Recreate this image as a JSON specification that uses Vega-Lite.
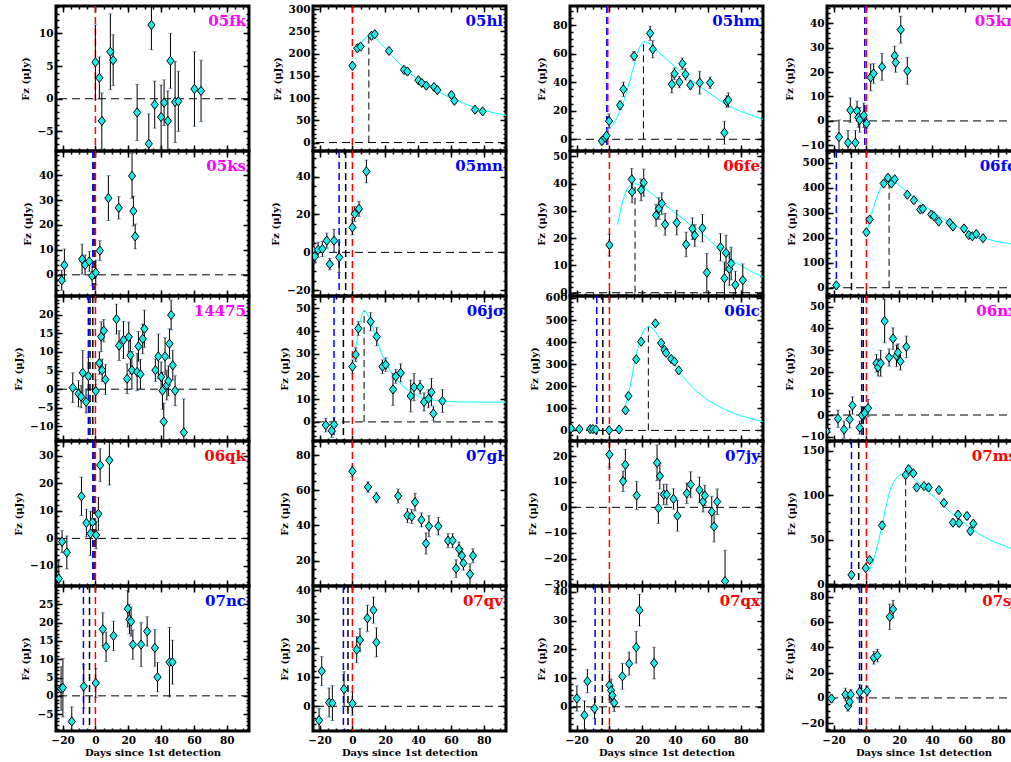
{
"$schema":"https://vega.github.io/schema/vega-lite/v6.json",
"background":"white",
"padding":{"left":12,"top":2,"right":0,"bottom":0},
"autosize":{"type":"pad"},
"columns":4,
"spacing":{"row":0,"column":64},
"bounds":"flush",
"datasets":{
"zero":[{"y":0}],
"vl":[
{"p":"05fk","x":0,"c":"#ff0000"},
{"p":"05hl","x":0,"c":"#ff0000"},
{"p":"05hm","x":-1.6,"c":"#0000ff"},{"p":"05hm","x":-1.0,"c":"#ff0000"},
{"p":"05kn","x":-1,"c":"#0000ff"},{"p":"05kn","x":0,"c":"#ff0000"},
{"p":"05ks","x":-1.6,"c":"#0000ff"},{"p":"05ks","x":-0.8,"c":"#000000"},{"p":"05ks","x":0,"c":"#ff0000"},
{"p":"05mn","x":-8.1,"c":"#0000ff"},{"p":"05mn","x":-4.1,"c":"#000000"},{"p":"05mn","x":0,"c":"#ff0000"},
{"p":"06fe","x":0,"c":"#ff0000"},
{"p":"06fo","x":-18.3,"c":"#0000ff"},{"p":"06fo","x":-9.1,"c":"#000000"},{"p":"06fo","x":0,"c":"#ff0000"},
{"p":"14475","x":-4.3,"c":"#0000ff"},{"p":"14475","x":-3.3,"c":"#000000"},{"p":"14475","x":-1.6,"c":"#000000"},{"p":"14475","x":0,"c":"#ff0000"},
{"p":"06jo","x":-11.2,"c":"#0000ff"},{"p":"06jo","x":-5.5,"c":"#000000"},{"p":"06jo","x":0,"c":"#ff0000"},
{"p":"06lc","x":-7.7,"c":"#0000ff"},{"p":"06lc","x":-4.0,"c":"#000000"},{"p":"06lc","x":0,"c":"#ff0000"},
{"p":"06nx","x":-2.9,"c":"#0000ff"},{"p":"06nx","x":-1.9,"c":"#000000"},{"p":"06nx","x":0,"c":"#ff0000"},
{"p":"06qk","x":-1.6,"c":"#0000ff"},{"p":"06qk","x":-0.8,"c":"#000000"},{"p":"06qk","x":0,"c":"#ff0000"},
{"p":"07gl","x":0,"c":"#ff0000"},
{"p":"07jy","x":0,"c":"#ff0000"},
{"p":"07ms","x":-9.1,"c":"#0000ff"},{"p":"07ms","x":-4.7,"c":"#000000"},{"p":"07ms","x":0,"c":"#ff0000"},
{"p":"07nc","x":-7.3,"c":"#0000ff"},{"p":"07nc","x":-3.6,"c":"#000000"},{"p":"07nc","x":0,"c":"#ff0000"},
{"p":"07qv","x":-5.5,"c":"#0000ff"},{"p":"07qv","x":-2.7,"c":"#000000"},{"p":"07qv","x":0,"c":"#ff0000"},
{"p":"07qx","x":-8.7,"c":"#0000ff"},{"p":"07qx","x":-4.3,"c":"#000000"},{"p":"07qx","x":0,"c":"#ff0000"},
{"p":"07sj","x":-4.2,"c":"#0000ff"},{"p":"07sj","x":-3.0,"c":"#000000"},{"p":"07sj","x":0,"c":"#ff0000"}
],
"pk":[
{"p":"05hl","x":10,"y0":0,"y1":240},
{"p":"05hm","x":20.7,"y0":0,"y1":68.5},
{"p":"06fe","x":15.6,"y0":0,"y1":39.8},
{"p":"06fo","x":13.8,"y0":0,"y1":430},
{"p":"06jo","x":7.1,"y0":0,"y1":49},
{"p":"06lc","x":23.7,"y0":0,"y1":472},
{"p":"07ms","x":23.9,"y0":0,"y1":124.5}
],
"fit":[
{"p":"05hl","x":3,"y":208},{"p":"05hl","x":5,"y":222},{"p":"05hl","x":7,"y":232},{"p":"05hl","x":9,"y":238},{"p":"05hl","x":11,"y":240},{"p":"05hl","x":13,"y":238},{"p":"05hl","x":16,"y":228},{"p":"05hl","x":20,"y":212},{"p":"05hl","x":25,"y":192},{"p":"05hl","x":30,"y":172},{"p":"05hl","x":35,"y":156},{"p":"05hl","x":40,"y":141},{"p":"05hl","x":45,"y":129},{"p":"05hl","x":50,"y":118},{"p":"05hl","x":55,"y":109},{"p":"05hl","x":60,"y":100},{"p":"05hl","x":65,"y":92},{"p":"05hl","x":70,"y":85},{"p":"05hl","x":75,"y":78},{"p":"05hl","x":80,"y":73},{"p":"05hl","x":85,"y":68},{"p":"05hl","x":93.5,"y":61},
{"p":"05hm","x":-1.5,"y":6},{"p":"05hm","x":2,"y":10},{"p":"05hm","x":5,"y":16},{"p":"05hm","x":8,"y":24},{"p":"05hm","x":11,"y":35},{"p":"05hm","x":14,"y":48},{"p":"05hm","x":17,"y":60},{"p":"05hm","x":19,"y":66},{"p":"05hm","x":21,"y":68.5},{"p":"05hm","x":23,"y":68},{"p":"05hm","x":26,"y":65.5},{"p":"05hm","x":30,"y":61},{"p":"05hm","x":35,"y":56},{"p":"05hm","x":40,"y":50.5},{"p":"05hm","x":45,"y":45.5},{"p":"05hm","x":50,"y":41},{"p":"05hm","x":55,"y":37},{"p":"05hm","x":60,"y":33},{"p":"05hm","x":65,"y":29},{"p":"05hm","x":70,"y":25},{"p":"05hm","x":75,"y":22},{"p":"05hm","x":80,"y":19.5},{"p":"05hm","x":85,"y":17.5},{"p":"05hm","x":93.5,"y":14},
{"p":"06fe","x":5,"y":25},{"p":"06fe","x":7,"y":31},{"p":"06fe","x":9,"y":35.5},{"p":"06fe","x":11,"y":38.3},{"p":"06fe","x":13,"y":39.6},{"p":"06fe","x":15.5,"y":40},{"p":"06fe","x":18,"y":39.6},{"p":"06fe","x":22,"y":38.3},{"p":"06fe","x":26,"y":36.3},{"p":"06fe","x":32,"y":33.2},{"p":"06fe","x":39,"y":29.8},{"p":"06fe","x":46,"y":26.6},{"p":"06fe","x":52,"y":23.5},{"p":"06fe","x":59,"y":20.4},{"p":"06fe","x":64,"y":17.6},{"p":"06fe","x":68,"y":15.4},{"p":"06fe","x":73,"y":13},{"p":"06fe","x":78,"y":10.7},{"p":"06fe","x":85,"y":8.2},{"p":"06fe","x":93.5,"y":5.8},
{"p":"06fo","x":1,"y":240},{"p":"06fo","x":3,"y":290},{"p":"06fo","x":5,"y":335},{"p":"06fo","x":7,"y":375},{"p":"06fo","x":9,"y":405},{"p":"06fo","x":11,"y":422},{"p":"06fo","x":13.8,"y":430},{"p":"06fo","x":17,"y":424},{"p":"06fo","x":20,"y":408},{"p":"06fo","x":25,"y":382},{"p":"06fo","x":30,"y":355},{"p":"06fo","x":35,"y":330},{"p":"06fo","x":40,"y":305},{"p":"06fo","x":45,"y":283},{"p":"06fo","x":50,"y":262},{"p":"06fo","x":55,"y":245},{"p":"06fo","x":60,"y":229},{"p":"06fo","x":65,"y":214},{"p":"06fo","x":70,"y":202},{"p":"06fo","x":75,"y":192},{"p":"06fo","x":80,"y":184},{"p":"06fo","x":87,"y":177},{"p":"06fo","x":93.5,"y":170},
{"p":"06jo","x":0.5,"y":27},{"p":"06jo","x":2,"y":33},{"p":"06jo","x":3.5,"y":39},{"p":"06jo","x":5,"y":45},{"p":"06jo","x":6,"y":48},{"p":"06jo","x":7.1,"y":49},{"p":"06jo","x":8.5,"y":48.3},{"p":"06jo","x":10,"y":46},{"p":"06jo","x":12,"y":42.5},{"p":"06jo","x":14,"y":38},{"p":"06jo","x":16,"y":33.5},{"p":"06jo","x":18,"y":29.8},{"p":"06jo","x":20,"y":26.5},{"p":"06jo","x":23,"y":22.5},{"p":"06jo","x":26,"y":19.5},{"p":"06jo","x":29,"y":17},{"p":"06jo","x":32,"y":15},{"p":"06jo","x":35,"y":13.3},{"p":"06jo","x":38,"y":12},{"p":"06jo","x":42,"y":10.8},{"p":"06jo","x":46,"y":10},{"p":"06jo","x":50,"y":9.5},{"p":"06jo","x":55,"y":9.1},{"p":"06jo","x":65,"y":8.8},{"p":"06jo","x":80,"y":8.7},{"p":"06jo","x":93.5,"y":8.7},
{"p":"06lc","x":9,"y":95},{"p":"06lc","x":11,"y":145},{"p":"06lc","x":13,"y":215},{"p":"06lc","x":15,"y":295},{"p":"06lc","x":17,"y":365},{"p":"06lc","x":19,"y":420},{"p":"06lc","x":21,"y":455},{"p":"06lc","x":23.7,"y":472},{"p":"06lc","x":26,"y":465},{"p":"06lc","x":28,"y":448},{"p":"06lc","x":31,"y":410},{"p":"06lc","x":34,"y":365},{"p":"06lc","x":37,"y":325},{"p":"06lc","x":40,"y":290},{"p":"06lc","x":44,"y":250},{"p":"06lc","x":48,"y":215},{"p":"06lc","x":52,"y":185},{"p":"06lc","x":56,"y":160},{"p":"06lc","x":60,"y":138},{"p":"06lc","x":65,"y":115},{"p":"06lc","x":70,"y":96},{"p":"06lc","x":75,"y":80},{"p":"06lc","x":80,"y":67},{"p":"06lc","x":85,"y":56},{"p":"06lc","x":93.5,"y":40},
{"p":"07ms","x":1.5,"y":14},{"p":"07ms","x":4,"y":25},{"p":"07ms","x":6,"y":38},{"p":"07ms","x":8,"y":53},{"p":"07ms","x":10,"y":70},{"p":"07ms","x":12,"y":88},{"p":"07ms","x":14,"y":103},{"p":"07ms","x":16,"y":113},{"p":"07ms","x":18,"y":119},{"p":"07ms","x":20,"y":122.5},{"p":"07ms","x":22,"y":124},{"p":"07ms","x":24,"y":124.5},{"p":"07ms","x":27,"y":122},{"p":"07ms","x":30,"y":117},{"p":"07ms","x":34,"y":110},{"p":"07ms","x":38,"y":103},{"p":"07ms","x":42,"y":97},{"p":"07ms","x":46,"y":90},{"p":"07ms","x":50,"y":83},{"p":"07ms","x":55,"y":75},{"p":"07ms","x":60,"y":68},{"p":"07ms","x":65,"y":61},{"p":"07ms","x":70,"y":55},{"p":"07ms","x":75,"y":50},{"p":"07ms","x":80,"y":46},{"p":"07ms","x":87,"y":41},{"p":"07ms","x":93.5,"y":37}
],
"pts":[
{"p":"05fk","x":0,"y":5.6,"e":5.7},{"p":"05fk","x":2.4,"y":3.2,"e":3.2},{"p":"05fk","x":3.9,"y":-3.4,"e":4.3},{"p":"05fk","x":9.1,"y":7.2,"e":5.8},{"p":"05fk","x":10.8,"y":5.9,"e":3.9},{"p":"05fk","x":25.4,"y":-2.1,"e":4.3},{"p":"05fk","x":32.5,"y":-6.9,"e":4.6},{"p":"05fk","x":34.1,"y":11.3,"e":3.8},{"p":"05fk","x":36.1,"y":-0.9,"e":3.6},{"p":"05fk","x":40,"y":-2.8,"e":4.9},{"p":"05fk","x":41.8,"y":-0.6,"e":3.5},{"p":"05fk","x":44.1,"y":-3.4,"e":4.6},{"p":"05fk","x":45.7,"y":5.8,"e":4.2},{"p":"05fk","x":48.5,"y":-0.5,"e":6.2},{"p":"05fk","x":50.5,"y":-0.4,"e":4.6},{"p":"05fk","x":60.3,"y":1.5,"e":5.7},{"p":"05fk","x":64.3,"y":1.2,"e":4.7},
{"p":"05hl","x":0,"y":172.5,"e":6},{"p":"05hl","x":3,"y":212,"e":7},{"p":"05hl","x":5,"y":216,"e":6},{"p":"05hl","x":11.6,"y":240,"e":7},{"p":"05hl","x":13.6,"y":243.7,"e":6},{"p":"05hl","x":22.3,"y":206,"e":6},{"p":"05hl","x":31.4,"y":163.5,"e":6},{"p":"05hl","x":33.5,"y":159.7,"e":7},{"p":"05hl","x":40.2,"y":140,"e":5},{"p":"05hl","x":42.2,"y":134,"e":5},{"p":"05hl","x":45,"y":128,"e":5},{"p":"05hl","x":49.7,"y":125,"e":5},{"p":"05hl","x":51.7,"y":118,"e":6},{"p":"05hl","x":60.3,"y":107,"e":5},{"p":"05hl","x":62.1,"y":94,"e":5},{"p":"05hl","x":74.6,"y":74,"e":5},{"p":"05hl","x":79.3,"y":70,"e":4},
{"p":"05hm","x":-4.6,"y":-1.2,"e":2.5},{"p":"05hm","x":-2.6,"y":1.1,"e":2},{"p":"05hm","x":-1.8,"y":2.5,"e":2},{"p":"05hm","x":-0.2,"y":12.8,"e":5},{"p":"05hm","x":6.5,"y":23.8,"e":3},{"p":"05hm","x":8.5,"y":35,"e":5},{"p":"05hm","x":15,"y":58.3,"e":3},{"p":"05hm","x":24.8,"y":74.2,"e":5},{"p":"05hm","x":26.4,"y":63,"e":6},{"p":"05hm","x":38,"y":38.5,"e":6},{"p":"05hm","x":39.6,"y":45.9,"e":4},{"p":"05hm","x":42.6,"y":40.1,"e":4},{"p":"05hm","x":44.4,"y":52.9,"e":4},{"p":"05hm","x":46.3,"y":45.5,"e":4},{"p":"05hm","x":49.3,"y":38,"e":3},{"p":"05hm","x":55,"y":39.6,"e":8},{"p":"05hm","x":61.3,"y":39.6,"e":4},{"p":"05hm","x":71.4,"y":26.5,"e":4},{"p":"05hm","x":72.4,"y":27.5,"e":5},{"p":"05hm","x":70,"y":4.6,"e":8},
{"p":"05kn","x":-16.7,"y":-6.6,"e":7},{"p":"05kn","x":-11.2,"y":-8.9,"e":5},{"p":"05kn","x":-9.8,"y":4.4,"e":5},{"p":"05kn","x":-6.7,"y":-8.9,"e":5},{"p":"05kn","x":-5.7,"y":4.1,"e":4},{"p":"05kn","x":-4.9,"y":1.4,"e":4},{"p":"05kn","x":-4.1,"y":0.4,"e":5},{"p":"05kn","x":-1.6,"y":2.3,"e":5},{"p":"05kn","x":0,"y":-1.1,"e":2},{"p":"05kn","x":2.6,"y":17.8,"e":5.5},{"p":"05kn","x":4.4,"y":19.4,"e":4},{"p":"05kn","x":9.5,"y":22.1,"e":5.5},{"p":"05kn","x":17.2,"y":26.6,"e":4},{"p":"05kn","x":17.8,"y":23.9,"e":4},{"p":"05kn","x":20.9,"y":37.3,"e":5.5},{"p":"05kn","x":24.9,"y":20.5,"e":5.5},
{"p":"05ks","x":-20.5,"y":-2.2,"e":4},{"p":"05ks","x":-18.9,"y":3.9,"e":6.5},{"p":"05ks","x":-8.1,"y":6.3,"e":6},{"p":"05ks","x":-6.3,"y":4,"e":4},{"p":"05ks","x":-3.7,"y":5.4,"e":4},{"p":"05ks","x":-2,"y":-0.4,"e":4},{"p":"05ks","x":0.2,"y":0.9,"e":5},{"p":"05ks","x":2.7,"y":9.7,"e":4},{"p":"05ks","x":7.9,"y":30.8,"e":9},{"p":"05ks","x":14.2,"y":26.9,"e":4.5},{"p":"05ks","x":22.3,"y":39.7,"e":9},{"p":"05ks","x":23.1,"y":25.6,"e":6},{"p":"05ks","x":24.2,"y":15.4,"e":5},
{"p":"05mn","x":-24.2,"y":1.3,"e":4},{"p":"05mn","x":-22.9,"y":-2.1,"e":3},{"p":"05mn","x":-20.9,"y":1.4,"e":4},{"p":"05mn","x":-18.3,"y":1.8,"e":4},{"p":"05mn","x":-15.6,"y":6.2,"e":4},{"p":"05mn","x":-13.8,"y":-6.2,"e":3},{"p":"05mn","x":-11.2,"y":6.2,"e":6},{"p":"05mn","x":-8.1,"y":-2.6,"e":8},{"p":"05mn","x":0,"y":13.2,"e":4},{"p":"05mn","x":1.4,"y":20.3,"e":4},{"p":"05mn","x":4,"y":23,"e":4},{"p":"05mn","x":8.5,"y":42.7,"e":6},
{"p":"06fe","x":0,"y":17.5,"e":4},{"p":"06fe","x":13.6,"y":41.6,"e":4},{"p":"06fe","x":13.8,"y":37,"e":4},{"p":"06fe","x":19.3,"y":37.7,"e":4},{"p":"06fe","x":20.9,"y":40.4,"e":5},{"p":"06fe","x":28.4,"y":28.4,"e":4},{"p":"06fe","x":30.1,"y":30.9,"e":4},{"p":"06fe","x":31.9,"y":32.7,"e":4},{"p":"06fe","x":33.9,"y":25.1,"e":4},{"p":"06fe","x":41,"y":25.7,"e":4.5},{"p":"06fe","x":46.7,"y":17.7,"e":4.5},{"p":"06fe","x":50.5,"y":23.5,"e":4},{"p":"06fe","x":52,"y":21,"e":4},{"p":"06fe","x":56.6,"y":23.7,"e":5},{"p":"06fe","x":59.3,"y":7.4,"e":7},{"p":"06fe","x":67.6,"y":16.7,"e":5},{"p":"06fe","x":70,"y":5.3,"e":6},{"p":"06fe","x":71,"y":14.6,"e":6.5},{"p":"06fe","x":73,"y":8.7,"e":6},{"p":"06fe","x":74.1,"y":10.7,"e":6},{"p":"06fe","x":76.7,"y":2.9,"e":5},{"p":"06fe","x":81.2,"y":4.6,"e":6},
{"p":"06fo","x":-18.3,"y":9.7,"e":10},{"p":"06fo","x":0,"y":222,"e":12},{"p":"06fo","x":2,"y":273,"e":12},{"p":"06fo","x":10.5,"y":417,"e":10},{"p":"06fo","x":13.1,"y":440,"e":10},{"p":"06fo","x":15.2,"y":417,"e":10},{"p":"06fo","x":17.2,"y":434,"e":10},{"p":"06fo","x":24.9,"y":372,"e":10},{"p":"06fo","x":28.9,"y":350,"e":10},{"p":"06fo","x":32.8,"y":313,"e":10},{"p":"06fo","x":34.4,"y":316,"e":10},{"p":"06fo","x":39.5,"y":293,"e":10},{"p":"06fo","x":41.1,"y":286,"e":10},{"p":"06fo","x":44,"y":265,"e":10},{"p":"06fo","x":50.7,"y":260,"e":10},{"p":"06fo","x":52.7,"y":245,"e":10},{"p":"06fo","x":59.4,"y":237,"e":10},{"p":"06fo","x":62.3,"y":211,"e":10},{"p":"06fo","x":64.5,"y":206,"e":10},{"p":"06fo","x":66.9,"y":215,"e":10},{"p":"06fo","x":71,"y":198,"e":10},
{"p":"14475","x":-13.8,"y":0.4,"e":4},{"p":"14475","x":-10.3,"y":-1.2,"e":3.5},{"p":"14475","x":-8.7,"y":-2,"e":3},{"p":"14475","x":-7.7,"y":4.4,"e":6},{"p":"14475","x":-5.7,"y":-3.4,"e":3},{"p":"14475","x":-4.3,"y":3.5,"e":5},{"p":"14475","x":0.2,"y":-0.5,"e":3},{"p":"14475","x":2.4,"y":7,"e":3},{"p":"14475","x":3.5,"y":14.1,"e":4},{"p":"14475","x":4.1,"y":5.1,"e":3},{"p":"14475","x":5.1,"y":15.7,"e":3},{"p":"14475","x":6.1,"y":2.6,"e":4},{"p":"14475","x":12.8,"y":18.8,"e":4},{"p":"14475","x":14.4,"y":11.7,"e":4},{"p":"14475","x":17.1,"y":13.2,"e":5},{"p":"14475","x":19.3,"y":2.8,"e":4},{"p":"14475","x":20.3,"y":14,"e":4},{"p":"14475","x":21.3,"y":9.1,"e":5},{"p":"14475","x":22.2,"y":5.1,"e":5},{"p":"14475","x":25.4,"y":4.6,"e":5},{"p":"14475","x":26.2,"y":11.5,"e":4},{"p":"14475","x":27.4,"y":4,"e":4},{"p":"14475","x":28.8,"y":13.5,"e":4},{"p":"14475","x":29.8,"y":16.2,"e":5},{"p":"14475","x":36.5,"y":5.1,"e":3},{"p":"14475","x":38.3,"y":8.8,"e":6},{"p":"14475","x":40,"y":3.3,"e":4},{"p":"14475","x":40.8,"y":-0.4,"e":5},{"p":"14475","x":41.6,"y":-8.7,"e":5},{"p":"14475","x":42.4,"y":8.8,"e":5},{"p":"14475","x":43.5,"y":1.1,"e":4},{"p":"14475","x":44.4,"y":2.2,"e":4},{"p":"14475","x":45.1,"y":12.2,"e":4},{"p":"14475","x":46.1,"y":19.9,"e":4},{"p":"14475","x":47.1,"y":6.4,"e":4},{"p":"14475","x":48.5,"y":-0.4,"e":4},{"p":"14475","x":53.8,"y":-11.6,"e":9},
{"p":"06jo","x":-16.2,"y":-1.4,"e":3},{"p":"06jo","x":-12.6,"y":-3.9,"e":3},{"p":"06jo","x":-11.2,"y":-1.2,"e":3},{"p":"06jo","x":0,"y":24.3,"e":3},{"p":"06jo","x":2,"y":29.6,"e":3},{"p":"06jo","x":3.6,"y":41.1,"e":3},{"p":"06jo","x":11.1,"y":44.1,"e":4},{"p":"06jo","x":14.8,"y":37.5,"e":4},{"p":"06jo","x":18.3,"y":24.3,"e":3},{"p":"06jo","x":20.3,"y":25.2,"e":3},{"p":"06jo","x":24.7,"y":14.3,"e":7},{"p":"06jo","x":26.4,"y":20,"e":3},{"p":"06jo","x":29.4,"y":21.6,"e":4},{"p":"06jo","x":35.5,"y":11.4,"e":7},{"p":"06jo","x":37.5,"y":15.3,"e":6},{"p":"06jo","x":41.2,"y":15.3,"e":3},{"p":"06jo","x":43.6,"y":8.8,"e":4},{"p":"06jo","x":46.3,"y":10.2,"e":4},{"p":"06jo","x":48.1,"y":13.1,"e":6},{"p":"06jo","x":49.3,"y":3.7,"e":3},{"p":"06jo","x":54.8,"y":9.2,"e":5},
{"p":"06lc","x":-23.3,"y":9,"e":8},{"p":"06lc","x":-18.3,"y":6,"e":8},{"p":"06lc","x":-11.7,"y":6,"e":8},{"p":"06lc","x":-10.1,"y":6,"e":8},{"p":"06lc","x":-8.3,"y":4,"e":8},{"p":"06lc","x":-0.2,"y":1,"e":8},{"p":"06lc","x":5.9,"y":4,"e":8},{"p":"06lc","x":9.8,"y":91,"e":10},{"p":"06lc","x":11.6,"y":156,"e":10},{"p":"06lc","x":16.3,"y":322,"e":12},{"p":"06lc","x":19.3,"y":402,"e":12},{"p":"06lc","x":28,"y":485,"e":10},{"p":"06lc","x":31.5,"y":396,"e":10},{"p":"06lc","x":33.5,"y":365,"e":10},{"p":"06lc","x":34.5,"y":351,"e":10},{"p":"06lc","x":37.6,"y":324,"e":10},{"p":"06lc","x":39.6,"y":312,"e":10},{"p":"06lc","x":42.2,"y":272,"e":10},
{"p":"06nx","x":-24.3,"y":-7.5,"e":4},{"p":"06nx","x":-17.3,"y":-1.7,"e":4},{"p":"06nx","x":-13.6,"y":-6.7,"e":4},{"p":"06nx","x":-10.2,"y":-2,"e":4},{"p":"06nx","x":-8.5,"y":4.4,"e":4},{"p":"06nx","x":-4.1,"y":-5.8,"e":3},{"p":"06nx","x":-2.7,"y":-0.1,"e":4},{"p":"06nx","x":-1,"y":1,"e":3},{"p":"06nx","x":1,"y":3.2,"e":4},{"p":"06nx","x":6.1,"y":23.9,"e":4},{"p":"06nx","x":7.1,"y":22,"e":4},{"p":"06nx","x":8.7,"y":23.9,"e":6},{"p":"06nx","x":11.1,"y":43.4,"e":10},{"p":"06nx","x":13.8,"y":26.6,"e":4},{"p":"06nx","x":16.2,"y":35.3,"e":5},{"p":"06nx","x":18.3,"y":27.4,"e":5},{"p":"06nx","x":19.2,"y":28.9,"e":4},{"p":"06nx","x":20.7,"y":24.8,"e":4},{"p":"06nx","x":24.3,"y":31.5,"e":5},
{"p":"06qk","x":-22.3,"y":-14.6,"e":7},{"p":"06qk","x":-20.3,"y":-1.2,"e":4},{"p":"06qk","x":-17.4,"y":-5.1,"e":6},{"p":"06qk","x":-8.5,"y":15.3,"e":7},{"p":"06qk","x":-5.5,"y":5.6,"e":5},{"p":"06qk","x":-3,"y":1.8,"e":8},{"p":"06qk","x":-1.8,"y":5.9,"e":4},{"p":"06qk","x":0.4,"y":1.2,"e":5},{"p":"06qk","x":1.8,"y":8.9,"e":6},{"p":"06qk","x":2.9,"y":26.6,"e":6},{"p":"06qk","x":8.5,"y":28.4,"e":9},
{"p":"07gl","x":0,"y":70.8,"e":3},{"p":"07gl","x":9.5,"y":61.8,"e":3},{"p":"07gl","x":14.6,"y":55.8,"e":3},{"p":"07gl","x":27.8,"y":56.7,"e":4},{"p":"07gl","x":33.5,"y":45.6,"e":4},{"p":"07gl","x":36.1,"y":45,"e":4},{"p":"07gl","x":38.1,"y":53.2,"e":5},{"p":"07gl","x":42,"y":43.1,"e":4},{"p":"07gl","x":44.8,"y":29.7,"e":6},{"p":"07gl","x":46.6,"y":39.5,"e":6},{"p":"07gl","x":52.3,"y":39.5,"e":5},{"p":"07gl","x":58.2,"y":31.3,"e":4},{"p":"07gl","x":61,"y":31.3,"e":4},{"p":"07gl","x":63.1,"y":15.4,"e":5},{"p":"07gl","x":64.9,"y":26.5,"e":4},{"p":"07gl","x":66.7,"y":22.7,"e":4},{"p":"07gl","x":67.6,"y":18.5,"e":4},{"p":"07gl","x":71.6,"y":12.2,"e":6},{"p":"07gl","x":73.4,"y":22.7,"e":4},
{"p":"07jy","x":0,"y":20.6,"e":5},{"p":"07jy","x":8.3,"y":10.2,"e":4},{"p":"07jy","x":9.7,"y":16.6,"e":6},{"p":"07jy","x":16.6,"y":4.6,"e":5.5},{"p":"07jy","x":29,"y":17.4,"e":7},{"p":"07jy","x":29.8,"y":-0.3,"e":6},{"p":"07jy","x":30.7,"y":12.2,"e":5},{"p":"07jy","x":33.1,"y":5,"e":4},{"p":"07jy","x":34.9,"y":5,"e":4},{"p":"07jy","x":39,"y":3.3,"e":4},{"p":"07jy","x":41.4,"y":-3.3,"e":6},{"p":"07jy","x":47.1,"y":5.5,"e":4},{"p":"07jy","x":49.5,"y":8.9,"e":5},{"p":"07jy","x":54.8,"y":6.8,"e":5},{"p":"07jy","x":57,"y":2.2,"e":4},{"p":"07jy","x":58.1,"y":4.6,"e":4},{"p":"07jy","x":62.3,"y":-1.7,"e":6},{"p":"07jy","x":63.7,"y":-7.5,"e":6},{"p":"07jy","x":65.6,"y":2.2,"e":5},{"p":"07jy","x":70.4,"y":-28.8,"e":12},
{"p":"07ms","x":-9.1,"y":10.5,"e":3},{"p":"07ms","x":-0.4,"y":18.1,"e":3},{"p":"07ms","x":2,"y":27.2,"e":3},{"p":"07ms","x":9.5,"y":66.1,"e":4},{"p":"07ms","x":23.9,"y":122.8,"e":4},{"p":"07ms","x":25.7,"y":129.3,"e":4},{"p":"07ms","x":28.6,"y":124.7,"e":3},{"p":"07ms","x":30.6,"y":108.8,"e":3},{"p":"07ms","x":35.1,"y":110.3,"e":3},{"p":"07ms","x":37.9,"y":108.8,"e":4},{"p":"07ms","x":44.2,"y":105.8,"e":3},{"p":"07ms","x":47.2,"y":91.4,"e":3},{"p":"07ms","x":52.7,"y":69.2,"e":3},{"p":"07ms","x":55.8,"y":78.2,"e":4},{"p":"07ms","x":56.4,"y":68.8,"e":4},{"p":"07ms","x":61.2,"y":76.7,"e":4},{"p":"07ms","x":63.3,"y":59.7,"e":4},{"p":"07ms","x":65.1,"y":68,"e":4},
{"p":"07nc","x":-20.9,"y":2,"e":6},{"p":"07nc","x":-19.8,"y":2.2,"e":8},{"p":"07nc","x":-14.4,"y":-7,"e":4},{"p":"07nc","x":-7.1,"y":2.6,"e":6},{"p":"07nc","x":0.2,"y":3.5,"e":4},{"p":"07nc","x":4.5,"y":18.2,"e":4.5},{"p":"07nc","x":6.5,"y":13.4,"e":4},{"p":"07nc","x":11,"y":16.4,"e":4},{"p":"07nc","x":19.7,"y":23.8,"e":5},{"p":"07nc","x":20.7,"y":20.9,"e":4},{"p":"07nc","x":21.7,"y":20.3,"e":4},{"p":"07nc","x":22.8,"y":14,"e":4},{"p":"07nc","x":27.8,"y":14,"e":6},{"p":"07nc","x":31.5,"y":17.6,"e":4},{"p":"07nc","x":36.2,"y":13.1,"e":5},{"p":"07nc","x":37.8,"y":5.1,"e":4},{"p":"07nc","x":45.1,"y":9.2,"e":9.5},{"p":"07nc","x":46.9,"y":9.2,"e":6},
{"p":"07qv","x":-20.3,"y":-4.8,"e":4},{"p":"07qv","x":-18.7,"y":12.1,"e":5},{"p":"07qv","x":-14.2,"y":1.3,"e":5},{"p":"07qv","x":-12.2,"y":1.1,"e":6},{"p":"07qv","x":-5.1,"y":5.9,"e":6},{"p":"07qv","x":0,"y":0.9,"e":4},{"p":"07qv","x":2.6,"y":19.5,"e":4.5},{"p":"07qv","x":4.6,"y":22.8,"e":4},{"p":"07qv","x":9.1,"y":30.3,"e":4.5},{"p":"07qv","x":12.8,"y":33.1,"e":4.5},{"p":"07qv","x":14.6,"y":22,"e":5},
{"p":"07qx","x":-19.8,"y":2.9,"e":4.4},{"p":"07qx","x":-15.2,"y":-2.9,"e":5},{"p":"07qx","x":-13.4,"y":8.9,"e":4},{"p":"07qx","x":-9.1,"y":-0.6,"e":3.5},{"p":"07qx","x":0,"y":7.5,"e":5},{"p":"07qx","x":1,"y":5.7,"e":4},{"p":"07qx","x":1.8,"y":4,"e":3},{"p":"07qx","x":2.9,"y":1.4,"e":3},{"p":"07qx","x":7.9,"y":10.6,"e":4.5},{"p":"07qx","x":12,"y":15,"e":4},{"p":"07qx","x":16.3,"y":20.7,"e":5.5},{"p":"07qx","x":18.3,"y":33.6,"e":5.5},{"p":"07qx","x":27.2,"y":15.2,"e":5.5},
{"p":"07sj","x":-21.3,"y":-0.5,"e":3},{"p":"07sj","x":-12.8,"y":2.7,"e":5},{"p":"07sj","x":-11.2,"y":-6.5,"e":4},{"p":"07sj","x":-10.2,"y":-3.1,"e":4},{"p":"07sj","x":-9.6,"y":2.7,"e":4},{"p":"07sj","x":-4.1,"y":4.7,"e":6},{"p":"07sj","x":0.4,"y":5.5,"e":4},{"p":"07sj","x":4.5,"y":31.8,"e":5},{"p":"07sj","x":6.7,"y":33.6,"e":5},{"p":"07sj","x":14.2,"y":64.3,"e":10},{"p":"07sj","x":16.2,"y":70.3,"e":7}
]
},
"concat":[
{"width":193,"height":145,"resolve":{"axis":{"x":"independent","y":"independent"}},"layer":[
{"data":{"name":"zero"},"mark":{"type":"rule","strokeDash":[8,5],"color":"black","clip":true},"encoding":{"y":{"field":"y","type":"quantitative","axis":{"orient":"right","values":[-5,0,5,10],"title":null}}}},
{"data":{"name":"vl"},"transform":[{"filter":"datum.p=='05fk'"}],"mark":{"type":"rule","strokeDash":[7,4],"strokeWidth":1.5,"clip":true},"encoding":{"x":{"field":"x","type":"quantitative","axis":{"orient":"top","values":[-20,0,20,40,60,80],"title":null}},"color":{"field":"c","type":"nominal","scale":null}}},
{"data":{"name":"pts"},"transform":[{"filter":"datum.p=='05fk'"}],"mark":{"type":"errorbar","ticks":{"size":4},"clip":true},"encoding":{"x":{"field":"x","type":"quantitative","axis":{"orient":"bottom","values":[-20,-15,-10,-5,0,5,10,15,20,25,30,35,40,45,50,55,60,65,70,75,80,85,90],"tickSize":-3,"labels":false,"title":null}},"y":{"field":"y","type":"quantitative","axis":{"orient":"left","values":[-8,-7,-6,-5,-4,-3,-2,-1,0,1,2,3,4,5,6,7,8,9,10,11,12,13,14],"tickSize":-3,"labels":false,"title":null}},"yError":{"field":"e"}}},
{"data":{"name":"pts"},"transform":[{"filter":"datum.p=='05fk'"}],"mark":{"type":"point","shape":"M-0.78,0L0,-1L0.78,0L0,1Z","filled":true,"fill":"#1de9e9","stroke":"black","strokeWidth":1,"size":85,"opacity":1,"clip":true},"encoding":{"x":{"field":"x","type":"quantitative","scale":{"domain":[-24,93.5],"nice":false,"zero":false},"axis":{"orient":"bottom","values":[-20,0,20,40,60,80],"labels":false,"title":null}},"y":{"field":"y","type":"quantitative","scale":{"domain":[-8,14.2],"nice":false,"zero":false},"axis":{"orient":"left","values":[-5,0,5,10],"title":"Fz (μJy)"}}}},
{"data":{"values":[{"t":"05fk"}]},"mark":{"type":"text","align":"right","baseline":"alphabetic","dx":-3,"dy":20,"font":"DejaVu Serif","fontWeight":"bold","fontSize":15,"color":"#ff00ff"},"encoding":{"x":{"datum":93.5,"type":"quantitative","axis":{"orient":"top","values":[-20,-15,-10,-5,0,5,10,15,20,25,30,35,40,45,50,55,60,65,70,75,80,85,90],"tickSize":-3,"labels":false,"title":null}},"y":{"datum":14.2,"type":"quantitative","axis":{"orient":"right","values":[-8,-7,-6,-5,-4,-3,-2,-1,0,1,2,3,4,5,6,7,8,9,10,11,12,13,14],"tickSize":-3,"labels":false,"title":null}},"text":{"field":"t"}}}
]},
{"width":193,"height":145,"resolve":{"axis":{"x":"independent","y":"independent"}},"layer":[
{"data":{"name":"zero"},"mark":{"type":"rule","strokeDash":[8,5],"color":"black","clip":true},"encoding":{"y":{"field":"y","type":"quantitative","axis":{"orient":"right","values":[0,50,100,150,200,250,300],"title":null}}}},
{"data":{"name":"vl"},"transform":[{"filter":"datum.p=='05hl'"}],"mark":{"type":"rule","strokeDash":[7,4],"strokeWidth":1.5,"clip":true},"encoding":{"x":{"field":"x","type":"quantitative","axis":{"orient":"top","values":[-20,0,20,40,60,80],"title":null}},"color":{"field":"c","type":"nominal","scale":null}}},
{"data":{"name":"pk"},"transform":[{"filter":"datum.p=='05hl'"}],"mark":{"type":"rule","strokeDash":[7,4],"color":"black","clip":true},"encoding":{"x":{"field":"x","type":"quantitative","axis":null},"y":{"field":"y0","type":"quantitative","axis":null},"y2":{"field":"y1"}}},
{"data":{"name":"fit"},"transform":[{"filter":"datum.p=='05hl'"}],"mark":{"type":"line","color":"#00ffff","strokeWidth":1,"clip":true},"encoding":{"x":{"field":"x","type":"quantitative","axis":null},"y":{"field":"y","type":"quantitative","axis":null}}},
{"data":{"name":"pts"},"transform":[{"filter":"datum.p=='05hl'"}],"mark":{"type":"errorbar","ticks":{"size":4},"clip":true},"encoding":{"x":{"field":"x","type":"quantitative","axis":{"orient":"bottom","values":[-20,-15,-10,-5,0,5,10,15,20,25,30,35,40,45,50,55,60,65,70,75,80,85,90],"tickSize":-3,"labels":false,"title":null}},"y":{"field":"y","type":"quantitative","axis":{"orient":"left","values":[-10,0,10,20,30,40,50,60,70,80,90,100,110,120,130,140,150,160,170,180,190,200,210,220,230,240,250,260,270,280,290,300],"tickSize":-3,"labels":false,"title":null}},"yError":{"field":"e"}}},
{"data":{"name":"pts"},"transform":[{"filter":"datum.p=='05hl'"}],"mark":{"type":"point","shape":"M-0.78,0L0,-1L0.78,0L0,1Z","filled":true,"fill":"#1de9e9","stroke":"black","strokeWidth":1,"size":85,"opacity":1,"clip":true},"encoding":{"x":{"field":"x","type":"quantitative","scale":{"domain":[-24,93.5],"nice":false,"zero":false},"axis":{"orient":"bottom","values":[-20,0,20,40,60,80],"labels":false,"title":null}},"y":{"field":"y","type":"quantitative","scale":{"domain":[-19,307],"nice":false,"zero":false},"axis":{"orient":"left","values":[0,50,100,150,200,250,300],"title":"Fz (μJy)"}}}},
{"data":{"values":[{"t":"05hl"}]},"mark":{"type":"text","align":"right","baseline":"alphabetic","dx":-3,"dy":20,"font":"DejaVu Serif","fontWeight":"bold","fontSize":15,"color":"#0000ff"},"encoding":{"x":{"datum":93.5,"type":"quantitative","axis":{"orient":"top","values":[-20,-15,-10,-5,0,5,10,15,20,25,30,35,40,45,50,55,60,65,70,75,80,85,90],"tickSize":-3,"labels":false,"title":null}},"y":{"datum":307,"type":"quantitative","axis":{"orient":"right","values":[-10,0,10,20,30,40,50,60,70,80,90,100,110,120,130,140,150,160,170,180,190,200,210,220,230,240,250,260,270,280,290,300],"tickSize":-3,"labels":false,"title":null}},"text":{"field":"t"}}}
]},
{"width":193,"height":145,"resolve":{"axis":{"x":"independent","y":"independent"}},"layer":[
{"data":{"name":"zero"},"mark":{"type":"rule","strokeDash":[8,5],"color":"black","clip":true},"encoding":{"y":{"field":"y","type":"quantitative","axis":{"orient":"right","values":[0,20,40,60,80],"title":null}}}},
{"data":{"name":"vl"},"transform":[{"filter":"datum.p=='05hm'"}],"mark":{"type":"rule","strokeDash":[7,4],"strokeWidth":1.5,"clip":true},"encoding":{"x":{"field":"x","type":"quantitative","axis":{"orient":"top","values":[-20,0,20,40,60,80],"title":null}},"color":{"field":"c","type":"nominal","scale":null}}},
{"data":{"name":"pk"},"transform":[{"filter":"datum.p=='05hm'"}],"mark":{"type":"rule","strokeDash":[7,4],"color":"black","clip":true},"encoding":{"x":{"field":"x","type":"quantitative","axis":null},"y":{"field":"y0","type":"quantitative","axis":null},"y2":{"field":"y1"}}},
{"data":{"name":"fit"},"transform":[{"filter":"datum.p=='05hm'"}],"mark":{"type":"line","color":"#00ffff","strokeWidth":1,"clip":true},"encoding":{"x":{"field":"x","type":"quantitative","axis":null},"y":{"field":"y","type":"quantitative","axis":null}}},
{"data":{"name":"pts"},"transform":[{"filter":"datum.p=='05hm'"}],"mark":{"type":"errorbar","ticks":{"size":4},"clip":true},"encoding":{"x":{"field":"x","type":"quantitative","axis":{"orient":"bottom","values":[-20,-15,-10,-5,0,5,10,15,20,25,30,35,40,45,50,55,60,65,70,75,80,85,90],"tickSize":-3,"labels":false,"title":null}},"y":{"field":"y","type":"quantitative","axis":{"orient":"left","values":[-5,0,5,10,15,20,25,30,35,40,45,50,55,60,65,70,75,80,85,90],"tickSize":-3,"labels":false,"title":null}},"yError":{"field":"e"}}},
{"data":{"name":"pts"},"transform":[{"filter":"datum.p=='05hm'"}],"mark":{"type":"point","shape":"M-0.78,0L0,-1L0.78,0L0,1Z","filled":true,"fill":"#1de9e9","stroke":"black","strokeWidth":1,"size":85,"opacity":1,"clip":true},"encoding":{"x":{"field":"x","type":"quantitative","scale":{"domain":[-24,93.5],"nice":false,"zero":false},"axis":{"orient":"bottom","values":[-20,0,20,40,60,80],"labels":false,"title":null}},"y":{"field":"y","type":"quantitative","scale":{"domain":[-8.2,93.3],"nice":false,"zero":false},"axis":{"orient":"left","values":[0,20,40,60,80],"title":"Fz (μJy)"}}}},
{"data":{"values":[{"t":"05hm"}]},"mark":{"type":"text","align":"right","baseline":"alphabetic","dx":-3,"dy":20,"font":"DejaVu Serif","fontWeight":"bold","fontSize":15,"color":"#0000ff"},"encoding":{"x":{"datum":93.5,"type":"quantitative","axis":{"orient":"top","values":[-20,-15,-10,-5,0,5,10,15,20,25,30,35,40,45,50,55,60,65,70,75,80,85,90],"tickSize":-3,"labels":false,"title":null}},"y":{"datum":93.3,"type":"quantitative","axis":{"orient":"right","values":[-5,0,5,10,15,20,25,30,35,40,45,50,55,60,65,70,75,80,85,90],"tickSize":-3,"labels":false,"title":null}},"text":{"field":"t"}}}
]},
{"width":193,"height":145,"resolve":{"axis":{"x":"independent","y":"independent"}},"layer":[
{"data":{"name":"zero"},"mark":{"type":"rule","strokeDash":[8,5],"color":"black","clip":true},"encoding":{"y":{"field":"y","type":"quantitative","axis":{"orient":"right","values":[-10,0,10,20,30,40],"title":null}}}},
{"data":{"name":"vl"},"transform":[{"filter":"datum.p=='05kn'"}],"mark":{"type":"rule","strokeDash":[7,4],"strokeWidth":1.5,"clip":true},"encoding":{"x":{"field":"x","type":"quantitative","axis":{"orient":"top","values":[-20,0,20,40,60,80],"title":null}},"color":{"field":"c","type":"nominal","scale":null}}},
{"data":{"name":"pts"},"transform":[{"filter":"datum.p=='05kn'"}],"mark":{"type":"errorbar","ticks":{"size":4},"clip":true},"encoding":{"x":{"field":"x","type":"quantitative","axis":{"orient":"bottom","values":[-20,-15,-10,-5,0,5,10,15,20,25,30,35,40,45,50,55,60,65,70,75,80,85,90],"tickSize":-3,"labels":false,"title":null}},"y":{"field":"y","type":"quantitative","axis":{"orient":"left","values":[-12,-10,-8,-6,-4,-2,0,2,4,6,8,10,12,14,16,18,20,22,24,26,28,30,32,34,36,38,40,42,44,46],"tickSize":-3,"labels":false,"title":null}},"yError":{"field":"e"}}},
{"data":{"name":"pts"},"transform":[{"filter":"datum.p=='05kn'"}],"mark":{"type":"point","shape":"M-0.78,0L0,-1L0.78,0L0,1Z","filled":true,"fill":"#1de9e9","stroke":"black","strokeWidth":1,"size":85,"opacity":1,"clip":true},"encoding":{"x":{"field":"x","type":"quantitative","scale":{"domain":[-24,93.5],"nice":false,"zero":false},"axis":{"orient":"bottom","values":[-20,0,20,40,60,80],"labels":false,"title":null}},"y":{"field":"y","type":"quantitative","scale":{"domain":[-12.3,47],"nice":false,"zero":false},"axis":{"orient":"left","values":[-10,0,10,20,30,40],"title":"Fz (μJy)"}}}},
{"data":{"values":[{"t":"05kn"}]},"mark":{"type":"text","align":"right","baseline":"alphabetic","dx":-3,"dy":20,"font":"DejaVu Serif","fontWeight":"bold","fontSize":15,"color":"#ff00ff"},"encoding":{"x":{"datum":93.5,"type":"quantitative","axis":{"orient":"top","values":[-20,-15,-10,-5,0,5,10,15,20,25,30,35,40,45,50,55,60,65,70,75,80,85,90],"tickSize":-3,"labels":false,"title":null}},"y":{"datum":47,"type":"quantitative","axis":{"orient":"right","values":[-12,-10,-8,-6,-4,-2,0,2,4,6,8,10,12,14,16,18,20,22,24,26,28,30,32,34,36,38,40,42,44,46],"tickSize":-3,"labels":false,"title":null}},"text":{"field":"t"}}}
]},
{"width":193,"height":145,"resolve":{"axis":{"x":"independent","y":"independent"}},"layer":[
{"data":{"name":"zero"},"mark":{"type":"rule","strokeDash":[8,5],"color":"black","clip":true},"encoding":{"y":{"field":"y","type":"quantitative","axis":{"orient":"right","values":[0,10,20,30,40],"title":null}}}},
{"data":{"name":"vl"},"transform":[{"filter":"datum.p=='05ks'"}],"mark":{"type":"rule","strokeDash":[7,4],"strokeWidth":1.5,"clip":true},"encoding":{"x":{"field":"x","type":"quantitative","axis":{"orient":"top","values":[-20,0,20,40,60,80],"title":null}},"color":{"field":"c","type":"nominal","scale":null}}},
{"data":{"name":"pts"},"transform":[{"filter":"datum.p=='05ks'"}],"mark":{"type":"errorbar","ticks":{"size":4},"clip":true},"encoding":{"x":{"field":"x","type":"quantitative","axis":{"orient":"bottom","values":[-20,-15,-10,-5,0,5,10,15,20,25,30,35,40,45,50,55,60,65,70,75,80,85,90],"tickSize":-3,"labels":false,"title":null}},"y":{"field":"y","type":"quantitative","axis":{"orient":"left","values":[-8,-6,-4,-2,0,2,4,6,8,10,12,14,16,18,20,22,24,26,28,30,32,34,36,38,40,42,44,46,48],"tickSize":-3,"labels":false,"title":null}},"yError":{"field":"e"}}},
{"data":{"name":"pts"},"transform":[{"filter":"datum.p=='05ks'"}],"mark":{"type":"point","shape":"M-0.78,0L0,-1L0.78,0L0,1Z","filled":true,"fill":"#1de9e9","stroke":"black","strokeWidth":1,"size":85,"opacity":1,"clip":true},"encoding":{"x":{"field":"x","type":"quantitative","scale":{"domain":[-24,93.5],"nice":false,"zero":false},"axis":{"orient":"bottom","values":[-20,0,20,40,60,80],"labels":false,"title":null}},"y":{"field":"y","type":"quantitative","scale":{"domain":[-8.5,49.7],"nice":false,"zero":false},"axis":{"orient":"left","values":[0,10,20,30,40],"title":"Fz (μJy)"}}}},
{"data":{"values":[{"t":"05ks"}]},"mark":{"type":"text","align":"right","baseline":"alphabetic","dx":-3,"dy":20,"font":"DejaVu Serif","fontWeight":"bold","fontSize":15,"color":"#ff00ff"},"encoding":{"x":{"datum":93.5,"type":"quantitative","axis":{"orient":"top","values":[-20,-15,-10,-5,0,5,10,15,20,25,30,35,40,45,50,55,60,65,70,75,80,85,90],"tickSize":-3,"labels":false,"title":null}},"y":{"datum":49.7,"type":"quantitative","axis":{"orient":"right","values":[-8,-6,-4,-2,0,2,4,6,8,10,12,14,16,18,20,22,24,26,28,30,32,34,36,38,40,42,44,46,48],"tickSize":-3,"labels":false,"title":null}},"text":{"field":"t"}}}
]},
{"width":193,"height":145,"resolve":{"axis":{"x":"independent","y":"independent"}},"layer":[
{"data":{"name":"zero"},"mark":{"type":"rule","strokeDash":[8,5],"color":"black","clip":true},"encoding":{"y":{"field":"y","type":"quantitative","axis":{"orient":"right","values":[-20,0,20,40],"title":null}}}},
{"data":{"name":"vl"},"transform":[{"filter":"datum.p=='05mn'"}],"mark":{"type":"rule","strokeDash":[7,4],"strokeWidth":1.5,"clip":true},"encoding":{"x":{"field":"x","type":"quantitative","axis":{"orient":"top","values":[-20,0,20,40,60,80],"title":null}},"color":{"field":"c","type":"nominal","scale":null}}},
{"data":{"name":"pts"},"transform":[{"filter":"datum.p=='05mn'"}],"mark":{"type":"errorbar","ticks":{"size":4},"clip":true},"encoding":{"x":{"field":"x","type":"quantitative","axis":{"orient":"bottom","values":[-20,-15,-10,-5,0,5,10,15,20,25,30,35,40,45,50,55,60,65,70,75,80,85,90],"tickSize":-3,"labels":false,"title":null}},"y":{"field":"y","type":"quantitative","axis":{"orient":"left","values":[-20,-15,-10,-5,0,5,10,15,20,25,30,35,40,45,50],"tickSize":-3,"labels":false,"title":null}},"yError":{"field":"e"}}},
{"data":{"name":"pts"},"transform":[{"filter":"datum.p=='05mn'"}],"mark":{"type":"point","shape":"M-0.78,0L0,-1L0.78,0L0,1Z","filled":true,"fill":"#1de9e9","stroke":"black","strokeWidth":1,"size":85,"opacity":1,"clip":true},"encoding":{"x":{"field":"x","type":"quantitative","scale":{"domain":[-24,93.5],"nice":false,"zero":false},"axis":{"orient":"bottom","values":[-20,0,20,40,60,80],"labels":false,"title":null}},"y":{"field":"y","type":"quantitative","scale":{"domain":[-23,53.5],"nice":false,"zero":false},"axis":{"orient":"left","values":[-20,0,20,40],"title":"Fz (μJy)"}}}},
{"data":{"values":[{"t":"05mn"}]},"mark":{"type":"text","align":"right","baseline":"alphabetic","dx":-3,"dy":20,"font":"DejaVu Serif","fontWeight":"bold","fontSize":15,"color":"#0000ff"},"encoding":{"x":{"datum":93.5,"type":"quantitative","axis":{"orient":"top","values":[-20,-15,-10,-5,0,5,10,15,20,25,30,35,40,45,50,55,60,65,70,75,80,85,90],"tickSize":-3,"labels":false,"title":null}},"y":{"datum":53.5,"type":"quantitative","axis":{"orient":"right","values":[-20,-15,-10,-5,0,5,10,15,20,25,30,35,40,45,50],"tickSize":-3,"labels":false,"title":null}},"text":{"field":"t"}}}
]},
{"width":193,"height":145,"resolve":{"axis":{"x":"independent","y":"independent"}},"layer":[
{"data":{"name":"zero"},"mark":{"type":"rule","strokeDash":[8,5],"color":"black","clip":true},"encoding":{"y":{"field":"y","type":"quantitative","axis":{"orient":"right","values":[0,10,20,30,40,50],"title":null}}}},
{"data":{"name":"vl"},"transform":[{"filter":"datum.p=='06fe'"}],"mark":{"type":"rule","strokeDash":[7,4],"strokeWidth":1.5,"clip":true},"encoding":{"x":{"field":"x","type":"quantitative","axis":{"orient":"top","values":[-20,0,20,40,60,80],"title":null}},"color":{"field":"c","type":"nominal","scale":null}}},
{"data":{"name":"pk"},"transform":[{"filter":"datum.p=='06fe'"}],"mark":{"type":"rule","strokeDash":[7,4],"color":"black","clip":true},"encoding":{"x":{"field":"x","type":"quantitative","axis":null},"y":{"field":"y0","type":"quantitative","axis":null},"y2":{"field":"y1"}}},
{"data":{"name":"fit"},"transform":[{"filter":"datum.p=='06fe'"}],"mark":{"type":"line","color":"#00ffff","strokeWidth":1,"clip":true},"encoding":{"x":{"field":"x","type":"quantitative","axis":null},"y":{"field":"y","type":"quantitative","axis":null}}},
{"data":{"name":"pts"},"transform":[{"filter":"datum.p=='06fe'"}],"mark":{"type":"errorbar","ticks":{"size":4},"clip":true},"encoding":{"x":{"field":"x","type":"quantitative","axis":{"orient":"bottom","values":[-20,-15,-10,-5,0,5,10,15,20,25,30,35,40,45,50,55,60,65,70,75,80,85,90],"tickSize":-3,"labels":false,"title":null}},"y":{"field":"y","type":"quantitative","axis":{"orient":"left","values":[0,2,4,6,8,10,12,14,16,18,20,22,24,26,28,30,32,34,36,38,40,42,44,46,48,50,52],"tickSize":-3,"labels":false,"title":null}},"yError":{"field":"e"}}},
{"data":{"name":"pts"},"transform":[{"filter":"datum.p=='06fe'"}],"mark":{"type":"point","shape":"M-0.78,0L0,-1L0.78,0L0,1Z","filled":true,"fill":"#1de9e9","stroke":"black","strokeWidth":1,"size":85,"opacity":1,"clip":true},"encoding":{"x":{"field":"x","type":"quantitative","scale":{"domain":[-24,93.5],"nice":false,"zero":false},"axis":{"orient":"bottom","values":[-20,0,20,40,60,80],"labels":false,"title":null}},"y":{"field":"y","type":"quantitative","scale":{"domain":[-1.2,52],"nice":false,"zero":false},"axis":{"orient":"left","values":[0,10,20,30,40,50],"title":"Fz (μJy)"}}}},
{"data":{"values":[{"t":"06fe"}]},"mark":{"type":"text","align":"right","baseline":"alphabetic","dx":-3,"dy":20,"font":"DejaVu Serif","fontWeight":"bold","fontSize":15,"color":"#ff0000"},"encoding":{"x":{"datum":93.5,"type":"quantitative","axis":{"orient":"top","values":[-20,-15,-10,-5,0,5,10,15,20,25,30,35,40,45,50,55,60,65,70,75,80,85,90],"tickSize":-3,"labels":false,"title":null}},"y":{"datum":52,"type":"quantitative","axis":{"orient":"right","values":[0,2,4,6,8,10,12,14,16,18,20,22,24,26,28,30,32,34,36,38,40,42,44,46,48,50,52],"tickSize":-3,"labels":false,"title":null}},"text":{"field":"t"}}}
]},
{"width":193,"height":145,"resolve":{"axis":{"x":"independent","y":"independent"}},"layer":[
{"data":{"name":"zero"},"mark":{"type":"rule","strokeDash":[8,5],"color":"black","clip":true},"encoding":{"y":{"field":"y","type":"quantitative","axis":{"orient":"right","values":[0,100,200,300,400,500],"title":null}}}},
{"data":{"name":"vl"},"transform":[{"filter":"datum.p=='06fo'"}],"mark":{"type":"rule","strokeDash":[7,4],"strokeWidth":1.5,"clip":true},"encoding":{"x":{"field":"x","type":"quantitative","axis":{"orient":"top","values":[-20,0,20,40,60,80],"title":null}},"color":{"field":"c","type":"nominal","scale":null}}},
{"data":{"name":"pk"},"transform":[{"filter":"datum.p=='06fo'"}],"mark":{"type":"rule","strokeDash":[7,4],"color":"black","clip":true},"encoding":{"x":{"field":"x","type":"quantitative","axis":null},"y":{"field":"y0","type":"quantitative","axis":null},"y2":{"field":"y1"}}},
{"data":{"name":"fit"},"transform":[{"filter":"datum.p=='06fo'"}],"mark":{"type":"line","color":"#00ffff","strokeWidth":1,"clip":true},"encoding":{"x":{"field":"x","type":"quantitative","axis":null},"y":{"field":"y","type":"quantitative","axis":null}}},
{"data":{"name":"pts"},"transform":[{"filter":"datum.p=='06fo'"}],"mark":{"type":"errorbar","ticks":{"size":4},"clip":true},"encoding":{"x":{"field":"x","type":"quantitative","axis":{"orient":"bottom","values":[-20,-15,-10,-5,0,5,10,15,20,25,30,35,40,45,50,55,60,65,70,75,80,85,90],"tickSize":-3,"labels":false,"title":null}},"y":{"field":"y","type":"quantitative","axis":{"orient":"left","values":[-20,0,20,40,60,80,100,120,140,160,180,200,220,240,260,280,300,320,340,360,380,400,420,440,460,480,500,520,540],"tickSize":-3,"labels":false,"title":null}},"yError":{"field":"e"}}},
{"data":{"name":"pts"},"transform":[{"filter":"datum.p=='06fo'"}],"mark":{"type":"point","shape":"M-0.78,0L0,-1L0.78,0L0,1Z","filled":true,"fill":"#1de9e9","stroke":"black","strokeWidth":1,"size":85,"opacity":1,"clip":true},"encoding":{"x":{"field":"x","type":"quantitative","scale":{"domain":[-24,93.5],"nice":false,"zero":false},"axis":{"orient":"bottom","values":[-20,0,20,40,60,80],"labels":false,"title":null}},"y":{"field":"y","type":"quantitative","scale":{"domain":[-33,547],"nice":false,"zero":false},"axis":{"orient":"left","values":[0,100,200,300,400,500],"title":"Fz (μJy)"}}}},
{"data":{"values":[{"t":"06fo"}]},"mark":{"type":"text","align":"right","baseline":"alphabetic","dx":-3,"dy":20,"font":"DejaVu Serif","fontWeight":"bold","fontSize":15,"color":"#0000ff"},"encoding":{"x":{"datum":93.5,"type":"quantitative","axis":{"orient":"top","values":[-20,-15,-10,-5,0,5,10,15,20,25,30,35,40,45,50,55,60,65,70,75,80,85,90],"tickSize":-3,"labels":false,"title":null}},"y":{"datum":547,"type":"quantitative","axis":{"orient":"right","values":[-20,0,20,40,60,80,100,120,140,160,180,200,220,240,260,280,300,320,340,360,380,400,420,440,460,480,500,520,540],"tickSize":-3,"labels":false,"title":null}},"text":{"field":"t"}}}
]},
{"width":193,"height":145,"resolve":{"axis":{"x":"independent","y":"independent"}},"layer":[
{"data":{"name":"zero"},"mark":{"type":"rule","strokeDash":[8,5],"color":"black","clip":true},"encoding":{"y":{"field":"y","type":"quantitative","axis":{"orient":"right","values":[-10,-5,0,5,10,15,20],"title":null}}}},
{"data":{"name":"vl"},"transform":[{"filter":"datum.p=='14475'"}],"mark":{"type":"rule","strokeDash":[7,4],"strokeWidth":1.5,"clip":true},"encoding":{"x":{"field":"x","type":"quantitative","axis":{"orient":"top","values":[-20,0,20,40,60,80],"title":null}},"color":{"field":"c","type":"nominal","scale":null}}},
{"data":{"name":"pts"},"transform":[{"filter":"datum.p=='14475'"}],"mark":{"type":"errorbar","ticks":{"size":4},"clip":true},"encoding":{"x":{"field":"x","type":"quantitative","axis":{"orient":"bottom","values":[-20,-15,-10,-5,0,5,10,15,20,25,30,35,40,45,50,55,60,65,70,75,80,85,90],"tickSize":-3,"labels":false,"title":null}},"y":{"field":"y","type":"quantitative","axis":{"orient":"left","values":[-13,-12,-11,-10,-9,-8,-7,-6,-5,-4,-3,-2,-1,0,1,2,3,4,5,6,7,8,9,10,11,12,13,14,15,16,17,18,19,20,21,22,23,24,25],"tickSize":-3,"labels":false,"title":null}},"yError":{"field":"e"}}},
{"data":{"name":"pts"},"transform":[{"filter":"datum.p=='14475'"}],"mark":{"type":"point","shape":"M-0.78,0L0,-1L0.78,0L0,1Z","filled":true,"fill":"#1de9e9","stroke":"black","strokeWidth":1,"size":85,"opacity":1,"clip":true},"encoding":{"x":{"field":"x","type":"quantitative","scale":{"domain":[-24,93.5],"nice":false,"zero":false},"axis":{"orient":"bottom","values":[-20,0,20,40,60,80],"labels":false,"title":null}},"y":{"field":"y","type":"quantitative","scale":{"domain":[-13.9,25],"nice":false,"zero":false},"axis":{"orient":"left","values":[-10,-5,0,5,10,15,20],"title":"Fz (μJy)"}}}},
{"data":{"values":[{"t":"14475"}]},"mark":{"type":"text","align":"right","baseline":"alphabetic","dx":-3,"dy":20,"font":"DejaVu Serif","fontWeight":"bold","fontSize":15,"color":"#ff00ff"},"encoding":{"x":{"datum":93.5,"type":"quantitative","axis":{"orient":"top","values":[-20,-15,-10,-5,0,5,10,15,20,25,30,35,40,45,50,55,60,65,70,75,80,85,90],"tickSize":-3,"labels":false,"title":null}},"y":{"datum":25,"type":"quantitative","axis":{"orient":"right","values":[-13,-12,-11,-10,-9,-8,-7,-6,-5,-4,-3,-2,-1,0,1,2,3,4,5,6,7,8,9,10,11,12,13,14,15,16,17,18,19,20,21,22,23,24,25],"tickSize":-3,"labels":false,"title":null}},"text":{"field":"t"}}}
]},
{"width":193,"height":145,"resolve":{"axis":{"x":"independent","y":"independent"}},"layer":[
{"data":{"name":"zero"},"mark":{"type":"rule","strokeDash":[8,5],"color":"black","clip":true},"encoding":{"y":{"field":"y","type":"quantitative","axis":{"orient":"right","values":[0,10,20,30,40,50],"title":null}}}},
{"data":{"name":"vl"},"transform":[{"filter":"datum.p=='06jo'"}],"mark":{"type":"rule","strokeDash":[7,4],"strokeWidth":1.5,"clip":true},"encoding":{"x":{"field":"x","type":"quantitative","axis":{"orient":"top","values":[-20,0,20,40,60,80],"title":null}},"color":{"field":"c","type":"nominal","scale":null}}},
{"data":{"name":"pk"},"transform":[{"filter":"datum.p=='06jo'"}],"mark":{"type":"rule","strokeDash":[7,4],"color":"black","clip":true},"encoding":{"x":{"field":"x","type":"quantitative","axis":null},"y":{"field":"y0","type":"quantitative","axis":null},"y2":{"field":"y1"}}},
{"data":{"name":"fit"},"transform":[{"filter":"datum.p=='06jo'"}],"mark":{"type":"line","color":"#00ffff","strokeWidth":1,"clip":true},"encoding":{"x":{"field":"x","type":"quantitative","axis":null},"y":{"field":"y","type":"quantitative","axis":null}}},
{"data":{"name":"pts"},"transform":[{"filter":"datum.p=='06jo'"}],"mark":{"type":"errorbar","ticks":{"size":4},"clip":true},"encoding":{"x":{"field":"x","type":"quantitative","axis":{"orient":"bottom","values":[-20,-15,-10,-5,0,5,10,15,20,25,30,35,40,45,50,55,60,65,70,75,80,85,90],"tickSize":-3,"labels":false,"title":null}},"y":{"field":"y","type":"quantitative","axis":{"orient":"left","values":[-8,-6,-4,-2,0,2,4,6,8,10,12,14,16,18,20,22,24,26,28,30,32,34,36,38,40,42,44,46,48,50,52,54],"tickSize":-3,"labels":false,"title":null}},"yError":{"field":"e"}}},
{"data":{"name":"pts"},"transform":[{"filter":"datum.p=='06jo'"}],"mark":{"type":"point","shape":"M-0.78,0L0,-1L0.78,0L0,1Z","filled":true,"fill":"#1de9e9","stroke":"black","strokeWidth":1,"size":85,"opacity":1,"clip":true},"encoding":{"x":{"field":"x","type":"quantitative","scale":{"domain":[-24,93.5],"nice":false,"zero":false},"axis":{"orient":"bottom","values":[-20,0,20,40,60,80],"labels":false,"title":null}},"y":{"field":"y","type":"quantitative","scale":{"domain":[-8.4,55.4],"nice":false,"zero":false},"axis":{"orient":"left","values":[0,10,20,30,40,50],"title":"Fz (μJy)"}}}},
{"data":{"values":[{"t":"06jo"}]},"mark":{"type":"text","align":"right","baseline":"alphabetic","dx":-3,"dy":20,"font":"DejaVu Serif","fontWeight":"bold","fontSize":15,"color":"#0000ff"},"encoding":{"x":{"datum":93.5,"type":"quantitative","axis":{"orient":"top","values":[-20,-15,-10,-5,0,5,10,15,20,25,30,35,40,45,50,55,60,65,70,75,80,85,90],"tickSize":-3,"labels":false,"title":null}},"y":{"datum":55.4,"type":"quantitative","axis":{"orient":"right","values":[-8,-6,-4,-2,0,2,4,6,8,10,12,14,16,18,20,22,24,26,28,30,32,34,36,38,40,42,44,46,48,50,52,54],"tickSize":-3,"labels":false,"title":null}},"text":{"field":"t"}}}
]},
{"width":193,"height":145,"resolve":{"axis":{"x":"independent","y":"independent"}},"layer":[
{"data":{"name":"zero"},"mark":{"type":"rule","strokeDash":[8,5],"color":"black","clip":true},"encoding":{"y":{"field":"y","type":"quantitative","axis":{"orient":"right","values":[0,100,200,300,400,500,600],"title":null}}}},
{"data":{"name":"vl"},"transform":[{"filter":"datum.p=='06lc'"}],"mark":{"type":"rule","strokeDash":[7,4],"strokeWidth":1.5,"clip":true},"encoding":{"x":{"field":"x","type":"quantitative","axis":{"orient":"top","values":[-20,0,20,40,60,80],"title":null}},"color":{"field":"c","type":"nominal","scale":null}}},
{"data":{"name":"pk"},"transform":[{"filter":"datum.p=='06lc'"}],"mark":{"type":"rule","strokeDash":[7,4],"color":"black","clip":true},"encoding":{"x":{"field":"x","type":"quantitative","axis":null},"y":{"field":"y0","type":"quantitative","axis":null},"y2":{"field":"y1"}}},
{"data":{"name":"fit"},"transform":[{"filter":"datum.p=='06lc'"}],"mark":{"type":"line","color":"#00ffff","strokeWidth":1,"clip":true},"encoding":{"x":{"field":"x","type":"quantitative","axis":null},"y":{"field":"y","type":"quantitative","axis":null}}},
{"data":{"name":"pts"},"transform":[{"filter":"datum.p=='06lc'"}],"mark":{"type":"errorbar","ticks":{"size":4},"clip":true},"encoding":{"x":{"field":"x","type":"quantitative","axis":{"orient":"bottom","values":[-20,-15,-10,-5,0,5,10,15,20,25,30,35,40,45,50,55,60,65,70,75,80,85,90],"tickSize":-3,"labels":false,"title":null}},"y":{"field":"y","type":"quantitative","axis":{"orient":"left","values":[-40,-20,0,20,40,60,80,100,120,140,160,180,200,220,240,260,280,300,320,340,360,380,400,420,440,460,480,500,520,540,560,580,600],"tickSize":-3,"labels":false,"title":null}},"yError":{"field":"e"}}},
{"data":{"name":"pts"},"transform":[{"filter":"datum.p=='06lc'"}],"mark":{"type":"point","shape":"M-0.78,0L0,-1L0.78,0L0,1Z","filled":true,"fill":"#1de9e9","stroke":"black","strokeWidth":1,"size":85,"opacity":1,"clip":true},"encoding":{"x":{"field":"x","type":"quantitative","scale":{"domain":[-24,93.5],"nice":false,"zero":false},"axis":{"orient":"bottom","values":[-20,0,20,40,60,80],"labels":false,"title":null}},"y":{"field":"y","type":"quantitative","scale":{"domain":[-48,609],"nice":false,"zero":false},"axis":{"orient":"left","values":[0,100,200,300,400,500,600],"title":"Fz (μJy)"}}}},
{"data":{"values":[{"t":"06lc"}]},"mark":{"type":"text","align":"right","baseline":"alphabetic","dx":-3,"dy":20,"font":"DejaVu Serif","fontWeight":"bold","fontSize":15,"color":"#0000ff"},"encoding":{"x":{"datum":93.5,"type":"quantitative","axis":{"orient":"top","values":[-20,-15,-10,-5,0,5,10,15,20,25,30,35,40,45,50,55,60,65,70,75,80,85,90],"tickSize":-3,"labels":false,"title":null}},"y":{"datum":609,"type":"quantitative","axis":{"orient":"right","values":[-40,-20,0,20,40,60,80,100,120,140,160,180,200,220,240,260,280,300,320,340,360,380,400,420,440,460,480,500,520,540,560,580,600],"tickSize":-3,"labels":false,"title":null}},"text":{"field":"t"}}}
]},
{"width":193,"height":145,"resolve":{"axis":{"x":"independent","y":"independent"}},"layer":[
{"data":{"name":"zero"},"mark":{"type":"rule","strokeDash":[8,5],"color":"black","clip":true},"encoding":{"y":{"field":"y","type":"quantitative","axis":{"orient":"right","values":[-10,0,10,20,30,40,50],"title":null}}}},
{"data":{"name":"vl"},"transform":[{"filter":"datum.p=='06nx'"}],"mark":{"type":"rule","strokeDash":[7,4],"strokeWidth":1.5,"clip":true},"encoding":{"x":{"field":"x","type":"quantitative","axis":{"orient":"top","values":[-20,0,20,40,60,80],"title":null}},"color":{"field":"c","type":"nominal","scale":null}}},
{"data":{"name":"pts"},"transform":[{"filter":"datum.p=='06nx'"}],"mark":{"type":"errorbar","ticks":{"size":4},"clip":true},"encoding":{"x":{"field":"x","type":"quantitative","axis":{"orient":"bottom","values":[-20,-15,-10,-5,0,5,10,15,20,25,30,35,40,45,50,55,60,65,70,75,80,85,90],"tickSize":-3,"labels":false,"title":null}},"y":{"field":"y","type":"quantitative","axis":{"orient":"left","values":[-12,-10,-8,-6,-4,-2,0,2,4,6,8,10,12,14,16,18,20,22,24,26,28,30,32,34,36,38,40,42,44,46,48,50,52,54],"tickSize":-3,"labels":false,"title":null}},"yError":{"field":"e"}}},
{"data":{"name":"pts"},"transform":[{"filter":"datum.p=='06nx'"}],"mark":{"type":"point","shape":"M-0.78,0L0,-1L0.78,0L0,1Z","filled":true,"fill":"#1de9e9","stroke":"black","strokeWidth":1,"size":85,"opacity":1,"clip":true},"encoding":{"x":{"field":"x","type":"quantitative","scale":{"domain":[-24,93.5],"nice":false,"zero":false},"axis":{"orient":"bottom","values":[-20,0,20,40,60,80],"labels":false,"title":null}},"y":{"field":"y","type":"quantitative","scale":{"domain":[-12,55],"nice":false,"zero":false},"axis":{"orient":"left","values":[-10,0,10,20,30,40,50],"title":"Fz (μJy)"}}}},
{"data":{"values":[{"t":"06nx"}]},"mark":{"type":"text","align":"right","baseline":"alphabetic","dx":-3,"dy":20,"font":"DejaVu Serif","fontWeight":"bold","fontSize":15,"color":"#ff00ff"},"encoding":{"x":{"datum":93.5,"type":"quantitative","axis":{"orient":"top","values":[-20,-15,-10,-5,0,5,10,15,20,25,30,35,40,45,50,55,60,65,70,75,80,85,90],"tickSize":-3,"labels":false,"title":null}},"y":{"datum":55,"type":"quantitative","axis":{"orient":"right","values":[-12,-10,-8,-6,-4,-2,0,2,4,6,8,10,12,14,16,18,20,22,24,26,28,30,32,34,36,38,40,42,44,46,48,50,52,54],"tickSize":-3,"labels":false,"title":null}},"text":{"field":"t"}}}
]},
{"width":193,"height":145,"resolve":{"axis":{"x":"independent","y":"independent"}},"layer":[
{"data":{"name":"zero"},"mark":{"type":"rule","strokeDash":[8,5],"color":"black","clip":true},"encoding":{"y":{"field":"y","type":"quantitative","axis":{"orient":"right","values":[-10,0,10,20,30],"title":null}}}},
{"data":{"name":"vl"},"transform":[{"filter":"datum.p=='06qk'"}],"mark":{"type":"rule","strokeDash":[7,4],"strokeWidth":1.5,"clip":true},"encoding":{"x":{"field":"x","type":"quantitative","axis":{"orient":"top","values":[-20,0,20,40,60,80],"title":null}},"color":{"field":"c","type":"nominal","scale":null}}},
{"data":{"name":"pts"},"transform":[{"filter":"datum.p=='06qk'"}],"mark":{"type":"errorbar","ticks":{"size":4},"clip":true},"encoding":{"x":{"field":"x","type":"quantitative","axis":{"orient":"bottom","values":[-20,-15,-10,-5,0,5,10,15,20,25,30,35,40,45,50,55,60,65,70,75,80,85,90],"tickSize":-3,"labels":false,"title":null}},"y":{"field":"y","type":"quantitative","axis":{"orient":"left","values":[-16,-14,-12,-10,-8,-6,-4,-2,0,2,4,6,8,10,12,14,16,18,20,22,24,26,28,30,32,34],"tickSize":-3,"labels":false,"title":null}},"yError":{"field":"e"}}},
{"data":{"name":"pts"},"transform":[{"filter":"datum.p=='06qk'"}],"mark":{"type":"point","shape":"M-0.78,0L0,-1L0.78,0L0,1Z","filled":true,"fill":"#1de9e9","stroke":"black","strokeWidth":1,"size":85,"opacity":1,"clip":true},"encoding":{"x":{"field":"x","type":"quantitative","scale":{"domain":[-24,93.5],"nice":false,"zero":false},"axis":{"orient":"bottom","values":[-20,0,20,40,60,80],"labels":false,"title":null}},"y":{"field":"y","type":"quantitative","scale":{"domain":[-17.3,35.4],"nice":false,"zero":false},"axis":{"orient":"left","values":[-10,0,10,20,30],"title":"Fz (μJy)"}}}},
{"data":{"values":[{"t":"06qk"}]},"mark":{"type":"text","align":"right","baseline":"alphabetic","dx":-3,"dy":20,"font":"DejaVu Serif","fontWeight":"bold","fontSize":15,"color":"#ff0000"},"encoding":{"x":{"datum":93.5,"type":"quantitative","axis":{"orient":"top","values":[-20,-15,-10,-5,0,5,10,15,20,25,30,35,40,45,50,55,60,65,70,75,80,85,90],"tickSize":-3,"labels":false,"title":null}},"y":{"datum":35.4,"type":"quantitative","axis":{"orient":"right","values":[-16,-14,-12,-10,-8,-6,-4,-2,0,2,4,6,8,10,12,14,16,18,20,22,24,26,28,30,32,34],"tickSize":-3,"labels":false,"title":null}},"text":{"field":"t"}}}
]},
{"width":193,"height":145,"resolve":{"axis":{"x":"independent","y":"independent"}},"layer":[
{"data":{"name":"zero"},"mark":{"type":"rule","strokeDash":[8,5],"color":"black","clip":true},"encoding":{"y":{"field":"y","type":"quantitative","axis":{"orient":"right","values":[20,40,60,80],"title":null}}}},
{"data":{"name":"vl"},"transform":[{"filter":"datum.p=='07gl'"}],"mark":{"type":"rule","strokeDash":[7,4],"strokeWidth":1.5,"clip":true},"encoding":{"x":{"field":"x","type":"quantitative","axis":{"orient":"top","values":[-20,0,20,40,60,80],"title":null}},"color":{"field":"c","type":"nominal","scale":null}}},
{"data":{"name":"pts"},"transform":[{"filter":"datum.p=='07gl'"}],"mark":{"type":"errorbar","ticks":{"size":4},"clip":true},"encoding":{"x":{"field":"x","type":"quantitative","axis":{"orient":"bottom","values":[-20,-15,-10,-5,0,5,10,15,20,25,30,35,40,45,50,55,60,65,70,75,80,85,90],"tickSize":-3,"labels":false,"title":null}},"y":{"field":"y","type":"quantitative","axis":{"orient":"left","values":[10,15,20,25,30,35,40,45,50,55,60,65,70,75,80,85],"tickSize":-3,"labels":false,"title":null}},"yError":{"field":"e"}}},
{"data":{"name":"pts"},"transform":[{"filter":"datum.p=='07gl'"}],"mark":{"type":"point","shape":"M-0.78,0L0,-1L0.78,0L0,1Z","filled":true,"fill":"#1de9e9","stroke":"black","strokeWidth":1,"size":85,"opacity":1,"clip":true},"encoding":{"x":{"field":"x","type":"quantitative","scale":{"domain":[-24,93.5],"nice":false,"zero":false},"axis":{"orient":"bottom","values":[-20,0,20,40,60,80],"labels":false,"title":null}},"y":{"field":"y","type":"quantitative","scale":{"domain":[5.5,88],"nice":false,"zero":false},"axis":{"orient":"left","values":[20,40,60,80],"title":"Fz (μJy)"}}}},
{"data":{"values":[{"t":"07gl"}]},"mark":{"type":"text","align":"right","baseline":"alphabetic","dx":-3,"dy":20,"font":"DejaVu Serif","fontWeight":"bold","fontSize":15,"color":"#0000ff"},"encoding":{"x":{"datum":93.5,"type":"quantitative","axis":{"orient":"top","values":[-20,-15,-10,-5,0,5,10,15,20,25,30,35,40,45,50,55,60,65,70,75,80,85,90],"tickSize":-3,"labels":false,"title":null}},"y":{"datum":88,"type":"quantitative","axis":{"orient":"right","values":[10,15,20,25,30,35,40,45,50,55,60,65,70,75,80,85],"tickSize":-3,"labels":false,"title":null}},"text":{"field":"t"}}}
]},
{"width":193,"height":145,"resolve":{"axis":{"x":"independent","y":"independent"}},"layer":[
{"data":{"name":"zero"},"mark":{"type":"rule","strokeDash":[8,5],"color":"black","clip":true},"encoding":{"y":{"field":"y","type":"quantitative","axis":{"orient":"right","values":[-30,-20,-10,0,10,20],"title":null}}}},
{"data":{"name":"vl"},"transform":[{"filter":"datum.p=='07jy'"}],"mark":{"type":"rule","strokeDash":[7,4],"strokeWidth":1.5,"clip":true},"encoding":{"x":{"field":"x","type":"quantitative","axis":{"orient":"top","values":[-20,0,20,40,60,80],"title":null}},"color":{"field":"c","type":"nominal","scale":null}}},
{"data":{"name":"pts"},"transform":[{"filter":"datum.p=='07jy'"}],"mark":{"type":"errorbar","ticks":{"size":4},"clip":true},"encoding":{"x":{"field":"x","type":"quantitative","axis":{"orient":"bottom","values":[-20,-15,-10,-5,0,5,10,15,20,25,30,35,40,45,50,55,60,65,70,75,80,85,90],"tickSize":-3,"labels":false,"title":null}},"y":{"field":"y","type":"quantitative","axis":{"orient":"left","values":[-30,-28,-26,-24,-22,-20,-18,-16,-14,-12,-10,-8,-6,-4,-2,0,2,4,6,8,10,12,14,16,18,20,22,24],"tickSize":-3,"labels":false,"title":null}},"yError":{"field":"e"}}},
{"data":{"name":"pts"},"transform":[{"filter":"datum.p=='07jy'"}],"mark":{"type":"point","shape":"M-0.78,0L0,-1L0.78,0L0,1Z","filled":true,"fill":"#1de9e9","stroke":"black","strokeWidth":1,"size":85,"opacity":1,"clip":true},"encoding":{"x":{"field":"x","type":"quantitative","scale":{"domain":[-24,93.5],"nice":false,"zero":false},"axis":{"orient":"bottom","values":[-20,0,20,40,60,80],"labels":false,"title":null}},"y":{"field":"y","type":"quantitative","scale":{"domain":[-30.7,25.9],"nice":false,"zero":false},"axis":{"orient":"left","values":[-30,-20,-10,0,10,20],"title":"Fz (μJy)"}}}},
{"data":{"values":[{"t":"07jy"}]},"mark":{"type":"text","align":"right","baseline":"alphabetic","dx":-3,"dy":20,"font":"DejaVu Serif","fontWeight":"bold","fontSize":15,"color":"#0000ff"},"encoding":{"x":{"datum":93.5,"type":"quantitative","axis":{"orient":"top","values":[-20,-15,-10,-5,0,5,10,15,20,25,30,35,40,45,50,55,60,65,70,75,80,85,90],"tickSize":-3,"labels":false,"title":null}},"y":{"datum":25.9,"type":"quantitative","axis":{"orient":"right","values":[-30,-28,-26,-24,-22,-20,-18,-16,-14,-12,-10,-8,-6,-4,-2,0,2,4,6,8,10,12,14,16,18,20,22,24],"tickSize":-3,"labels":false,"title":null}},"text":{"field":"t"}}}
]},
{"width":193,"height":145,"resolve":{"axis":{"x":"independent","y":"independent"}},"layer":[
{"data":{"name":"zero"},"mark":{"type":"rule","strokeDash":[8,5],"color":"black","clip":true},"encoding":{"y":{"field":"y","type":"quantitative","axis":{"orient":"right","values":[0,50,100,150],"title":null}}}},
{"data":{"name":"vl"},"transform":[{"filter":"datum.p=='07ms'"}],"mark":{"type":"rule","strokeDash":[7,4],"strokeWidth":1.5,"clip":true},"encoding":{"x":{"field":"x","type":"quantitative","axis":{"orient":"top","values":[-20,0,20,40,60,80],"title":null}},"color":{"field":"c","type":"nominal","scale":null}}},
{"data":{"name":"pk"},"transform":[{"filter":"datum.p=='07ms'"}],"mark":{"type":"rule","strokeDash":[7,4],"color":"black","clip":true},"encoding":{"x":{"field":"x","type":"quantitative","axis":null},"y":{"field":"y0","type":"quantitative","axis":null},"y2":{"field":"y1"}}},
{"data":{"name":"fit"},"transform":[{"filter":"datum.p=='07ms'"}],"mark":{"type":"line","color":"#00ffff","strokeWidth":1,"clip":true},"encoding":{"x":{"field":"x","type":"quantitative","axis":null},"y":{"field":"y","type":"quantitative","axis":null}}},
{"data":{"name":"pts"},"transform":[{"filter":"datum.p=='07ms'"}],"mark":{"type":"errorbar","ticks":{"size":4},"clip":true},"encoding":{"x":{"field":"x","type":"quantitative","axis":{"orient":"bottom","values":[-20,-15,-10,-5,0,5,10,15,20,25,30,35,40,45,50,55,60,65,70,75,80,85,90],"tickSize":-3,"labels":false,"title":null}},"y":{"field":"y","type":"quantitative","axis":{"orient":"left","values":[0,10,20,30,40,50,60,70,80,90,100,110,120,130,140,150,160],"tickSize":-3,"labels":false,"title":null}},"yError":{"field":"e"}}},
{"data":{"name":"pts"},"transform":[{"filter":"datum.p=='07ms'"}],"mark":{"type":"point","shape":"M-0.78,0L0,-1L0.78,0L0,1Z","filled":true,"fill":"#1de9e9","stroke":"black","strokeWidth":1,"size":85,"opacity":1,"clip":true},"encoding":{"x":{"field":"x","type":"quantitative","scale":{"domain":[-24,93.5],"nice":false,"zero":false},"axis":{"orient":"bottom","values":[-20,0,20,40,60,80],"labels":false,"title":null}},"y":{"field":"y","type":"quantitative","scale":{"domain":[-2,161],"nice":false,"zero":false},"axis":{"orient":"left","values":[0,50,100,150],"title":"Fz (μJy)"}}}},
{"data":{"values":[{"t":"07ms"}]},"mark":{"type":"text","align":"right","baseline":"alphabetic","dx":-3,"dy":20,"font":"DejaVu Serif","fontWeight":"bold","fontSize":15,"color":"#ff0000"},"encoding":{"x":{"datum":93.5,"type":"quantitative","axis":{"orient":"top","values":[-20,-15,-10,-5,0,5,10,15,20,25,30,35,40,45,50,55,60,65,70,75,80,85,90],"tickSize":-3,"labels":false,"title":null}},"y":{"datum":161,"type":"quantitative","axis":{"orient":"right","values":[0,10,20,30,40,50,60,70,80,90,100,110,120,130,140,150,160],"tickSize":-3,"labels":false,"title":null}},"text":{"field":"t"}}}
]},
{"width":193,"height":145,"resolve":{"axis":{"x":"independent","y":"independent"}},"layer":[
{"data":{"name":"zero"},"mark":{"type":"rule","strokeDash":[8,5],"color":"black","clip":true},"encoding":{"y":{"field":"y","type":"quantitative","axis":{"orient":"right","values":[-5,0,5,10,15,20,25],"title":null}}}},
{"data":{"name":"vl"},"transform":[{"filter":"datum.p=='07nc'"}],"mark":{"type":"rule","strokeDash":[7,4],"strokeWidth":1.5,"clip":true},"encoding":{"x":{"field":"x","type":"quantitative","axis":{"orient":"top","values":[-20,0,20,40,60,80],"title":null}},"color":{"field":"c","type":"nominal","scale":null}}},
{"data":{"name":"pts"},"transform":[{"filter":"datum.p=='07nc'"}],"mark":{"type":"errorbar","ticks":{"size":4},"clip":true},"encoding":{"x":{"field":"x","type":"quantitative","axis":{"orient":"bottom","values":[-20,-15,-10,-5,0,5,10,15,20,25,30,35,40,45,50,55,60,65,70,75,80,85,90],"tickSize":-3,"labels":false,"title":null}},"y":{"field":"y","type":"quantitative","axis":{"orient":"left","values":[-9,-8,-7,-6,-5,-4,-3,-2,-1,0,1,2,3,4,5,6,7,8,9,10,11,12,13,14,15,16,17,18,19,20,21,22,23,24,25,26,27,28,29,30],"tickSize":-3,"labels":false,"title":null}},"yError":{"field":"e"}}},
{"data":{"name":"pts"},"transform":[{"filter":"datum.p=='07nc'"}],"mark":{"type":"point","shape":"M-0.78,0L0,-1L0.78,0L0,1Z","filled":true,"fill":"#1de9e9","stroke":"black","strokeWidth":1,"size":85,"opacity":1,"clip":true},"encoding":{"x":{"field":"x","type":"quantitative","scale":{"domain":[-24,93.5],"nice":false,"zero":false},"axis":{"orient":"bottom","values":[-20,0,20,40,60,80],"labels":true,"title":"Days since 1st detection"}},"y":{"field":"y","type":"quantitative","scale":{"domain":[-9.6,30],"nice":false,"zero":false},"axis":{"orient":"left","values":[-5,0,5,10,15,20,25],"title":"Fz (μJy)"}}}},
{"data":{"values":[{"t":"07nc"}]},"mark":{"type":"text","align":"right","baseline":"alphabetic","dx":-3,"dy":20,"font":"DejaVu Serif","fontWeight":"bold","fontSize":15,"color":"#0000ff"},"encoding":{"x":{"datum":93.5,"type":"quantitative","axis":{"orient":"top","values":[-20,-15,-10,-5,0,5,10,15,20,25,30,35,40,45,50,55,60,65,70,75,80,85,90],"tickSize":-3,"labels":false,"title":null}},"y":{"datum":30,"type":"quantitative","axis":{"orient":"right","values":[-9,-8,-7,-6,-5,-4,-3,-2,-1,0,1,2,3,4,5,6,7,8,9,10,11,12,13,14,15,16,17,18,19,20,21,22,23,24,25,26,27,28,29,30],"tickSize":-3,"labels":false,"title":null}},"text":{"field":"t"}}}
]},
{"width":193,"height":145,"resolve":{"axis":{"x":"independent","y":"independent"}},"layer":[
{"data":{"name":"zero"},"mark":{"type":"rule","strokeDash":[8,5],"color":"black","clip":true},"encoding":{"y":{"field":"y","type":"quantitative","axis":{"orient":"right","values":[0,10,20,30,40],"title":null}}}},
{"data":{"name":"vl"},"transform":[{"filter":"datum.p=='07qv'"}],"mark":{"type":"rule","strokeDash":[7,4],"strokeWidth":1.5,"clip":true},"encoding":{"x":{"field":"x","type":"quantitative","axis":{"orient":"top","values":[-20,0,20,40,60,80],"title":null}},"color":{"field":"c","type":"nominal","scale":null}}},
{"data":{"name":"pts"},"transform":[{"filter":"datum.p=='07qv'"}],"mark":{"type":"errorbar","ticks":{"size":4},"clip":true},"encoding":{"x":{"field":"x","type":"quantitative","axis":{"orient":"bottom","values":[-20,-15,-10,-5,0,5,10,15,20,25,30,35,40,45,50,55,60,65,70,75,80,85,90],"tickSize":-3,"labels":false,"title":null}},"y":{"field":"y","type":"quantitative","axis":{"orient":"left","values":[-8,-6,-4,-2,0,2,4,6,8,10,12,14,16,18,20,22,24,26,28,30,32,34,36,38,40],"tickSize":-3,"labels":false,"title":null}},"yError":{"field":"e"}}},
{"data":{"name":"pts"},"transform":[{"filter":"datum.p=='07qv'"}],"mark":{"type":"point","shape":"M-0.78,0L0,-1L0.78,0L0,1Z","filled":true,"fill":"#1de9e9","stroke":"black","strokeWidth":1,"size":85,"opacity":1,"clip":true},"encoding":{"x":{"field":"x","type":"quantitative","scale":{"domain":[-24,93.5],"nice":false,"zero":false},"axis":{"orient":"bottom","values":[-20,0,20,40,60,80],"labels":true,"title":"Days since 1st detection"}},"y":{"field":"y","type":"quantitative","scale":{"domain":[-8.5,41.4],"nice":false,"zero":false},"axis":{"orient":"left","values":[0,10,20,30,40],"title":"Fz (μJy)"}}}},
{"data":{"values":[{"t":"07qv"}]},"mark":{"type":"text","align":"right","baseline":"alphabetic","dx":-3,"dy":20,"font":"DejaVu Serif","fontWeight":"bold","fontSize":15,"color":"#ff0000"},"encoding":{"x":{"datum":93.5,"type":"quantitative","axis":{"orient":"top","values":[-20,-15,-10,-5,0,5,10,15,20,25,30,35,40,45,50,55,60,65,70,75,80,85,90],"tickSize":-3,"labels":false,"title":null}},"y":{"datum":41.4,"type":"quantitative","axis":{"orient":"right","values":[-8,-6,-4,-2,0,2,4,6,8,10,12,14,16,18,20,22,24,26,28,30,32,34,36,38,40],"tickSize":-3,"labels":false,"title":null}},"text":{"field":"t"}}}
]},
{"width":193,"height":145,"resolve":{"axis":{"x":"independent","y":"independent"}},"layer":[
{"data":{"name":"zero"},"mark":{"type":"rule","strokeDash":[8,5],"color":"black","clip":true},"encoding":{"y":{"field":"y","type":"quantitative","axis":{"orient":"right","values":[0,10,20,30,40],"title":null}}}},
{"data":{"name":"vl"},"transform":[{"filter":"datum.p=='07qx'"}],"mark":{"type":"rule","strokeDash":[7,4],"strokeWidth":1.5,"clip":true},"encoding":{"x":{"field":"x","type":"quantitative","axis":{"orient":"top","values":[-20,0,20,40,60,80],"title":null}},"color":{"field":"c","type":"nominal","scale":null}}},
{"data":{"name":"pts"},"transform":[{"filter":"datum.p=='07qx'"}],"mark":{"type":"errorbar","ticks":{"size":4},"clip":true},"encoding":{"x":{"field":"x","type":"quantitative","axis":{"orient":"bottom","values":[-20,-15,-10,-5,0,5,10,15,20,25,30,35,40,45,50,55,60,65,70,75,80,85,90],"tickSize":-3,"labels":false,"title":null}},"y":{"field":"y","type":"quantitative","axis":{"orient":"left","values":[-8,-6,-4,-2,0,2,4,6,8,10,12,14,16,18,20,22,24,26,28,30,32,34,36,38,40,42],"tickSize":-3,"labels":false,"title":null}},"yError":{"field":"e"}}},
{"data":{"name":"pts"},"transform":[{"filter":"datum.p=='07qx'"}],"mark":{"type":"point","shape":"M-0.78,0L0,-1L0.78,0L0,1Z","filled":true,"fill":"#1de9e9","stroke":"black","strokeWidth":1,"size":85,"opacity":1,"clip":true},"encoding":{"x":{"field":"x","type":"quantitative","scale":{"domain":[-24,93.5],"nice":false,"zero":false},"axis":{"orient":"bottom","values":[-20,0,20,40,60,80],"labels":true,"title":"Days since 1st detection"}},"y":{"field":"y","type":"quantitative","scale":{"domain":[-8.4,42],"nice":false,"zero":false},"axis":{"orient":"left","values":[0,10,20,30,40],"title":"Fz (μJy)"}}}},
{"data":{"values":[{"t":"07qx"}]},"mark":{"type":"text","align":"right","baseline":"alphabetic","dx":-3,"dy":20,"font":"DejaVu Serif","fontWeight":"bold","fontSize":15,"color":"#ff0000"},"encoding":{"x":{"datum":93.5,"type":"quantitative","axis":{"orient":"top","values":[-20,-15,-10,-5,0,5,10,15,20,25,30,35,40,45,50,55,60,65,70,75,80,85,90],"tickSize":-3,"labels":false,"title":null}},"y":{"datum":42,"type":"quantitative","axis":{"orient":"right","values":[-8,-6,-4,-2,0,2,4,6,8,10,12,14,16,18,20,22,24,26,28,30,32,34,36,38,40,42],"tickSize":-3,"labels":false,"title":null}},"text":{"field":"t"}}}
]},
{"width":193,"height":145,"resolve":{"axis":{"x":"independent","y":"independent"}},"layer":[
{"data":{"name":"zero"},"mark":{"type":"rule","strokeDash":[8,5],"color":"black","clip":true},"encoding":{"y":{"field":"y","type":"quantitative","axis":{"orient":"right","values":[-20,0,20,40,60,80],"title":null}}}},
{"data":{"name":"vl"},"transform":[{"filter":"datum.p=='07sj'"}],"mark":{"type":"rule","strokeDash":[7,4],"strokeWidth":1.5,"clip":true},"encoding":{"x":{"field":"x","type":"quantitative","axis":{"orient":"top","values":[-20,0,20,40,60,80],"title":null}},"color":{"field":"c","type":"nominal","scale":null}}},
{"data":{"name":"pts"},"transform":[{"filter":"datum.p=='07sj'"}],"mark":{"type":"errorbar","ticks":{"size":4},"clip":true},"encoding":{"x":{"field":"x","type":"quantitative","axis":{"orient":"bottom","values":[-20,-15,-10,-5,0,5,10,15,20,25,30,35,40,45,50,55,60,65,70,75,80,85,90],"tickSize":-3,"labels":false,"title":null}},"y":{"field":"y","type":"quantitative","axis":{"orient":"left","values":[-25,-20,-15,-10,-5,0,5,10,15,20,25,30,35,40,45,50,55,60,65,70,75,80,85],"tickSize":-3,"labels":false,"title":null}},"yError":{"field":"e"}}},
{"data":{"name":"pts"},"transform":[{"filter":"datum.p=='07sj'"}],"mark":{"type":"point","shape":"M-0.78,0L0,-1L0.78,0L0,1Z","filled":true,"fill":"#1de9e9","stroke":"black","strokeWidth":1,"size":85,"opacity":1,"clip":true},"encoding":{"x":{"field":"x","type":"quantitative","scale":{"domain":[-24,93.5],"nice":false,"zero":false},"axis":{"orient":"bottom","values":[-20,0,20,40,60,80],"labels":true,"title":"Days since 1st detection"}},"y":{"field":"y","type":"quantitative","scale":{"domain":[-26.2,88.7],"nice":false,"zero":false},"axis":{"orient":"left","values":[-20,0,20,40,60,80],"title":"Fz (μJy)"}}}},
{"data":{"values":[{"t":"07sj"}]},"mark":{"type":"text","align":"right","baseline":"alphabetic","dx":-3,"dy":20,"font":"DejaVu Serif","fontWeight":"bold","fontSize":15,"color":"#ff0000"},"encoding":{"x":{"datum":93.5,"type":"quantitative","axis":{"orient":"top","values":[-20,-15,-10,-5,0,5,10,15,20,25,30,35,40,45,50,55,60,65,70,75,80,85,90],"tickSize":-3,"labels":false,"title":null}},"y":{"datum":88.7,"type":"quantitative","axis":{"orient":"right","values":[-25,-20,-15,-10,-5,0,5,10,15,20,25,30,35,40,45,50,55,60,65,70,75,80,85],"tickSize":-3,"labels":false,"title":null}},"text":{"field":"t"}}}
]}
],
"config":{
"view":{"stroke":"black","strokeWidth":3},
"axis":{"grid":false,"domain":false,"tickColor":"black","tickWidth":1.5,"tickSize":-6,"labelFont":"DejaVu Serif","labelFontWeight":"bold","labelFontSize":10.5,"labelColor":"black","labelPadding":9,"labelOverlap":false,"labelFlush":false,"titleFont":"DejaVu Serif","titleFontWeight":"bold","titleFontSize":10,"titleColor":"black","titlePadding":6},
"axisBottom":{"labelPadding":10,"titlePadding":2},
"axisTop":{"labels":false},
"axisRight":{"labels":false}
}
}
